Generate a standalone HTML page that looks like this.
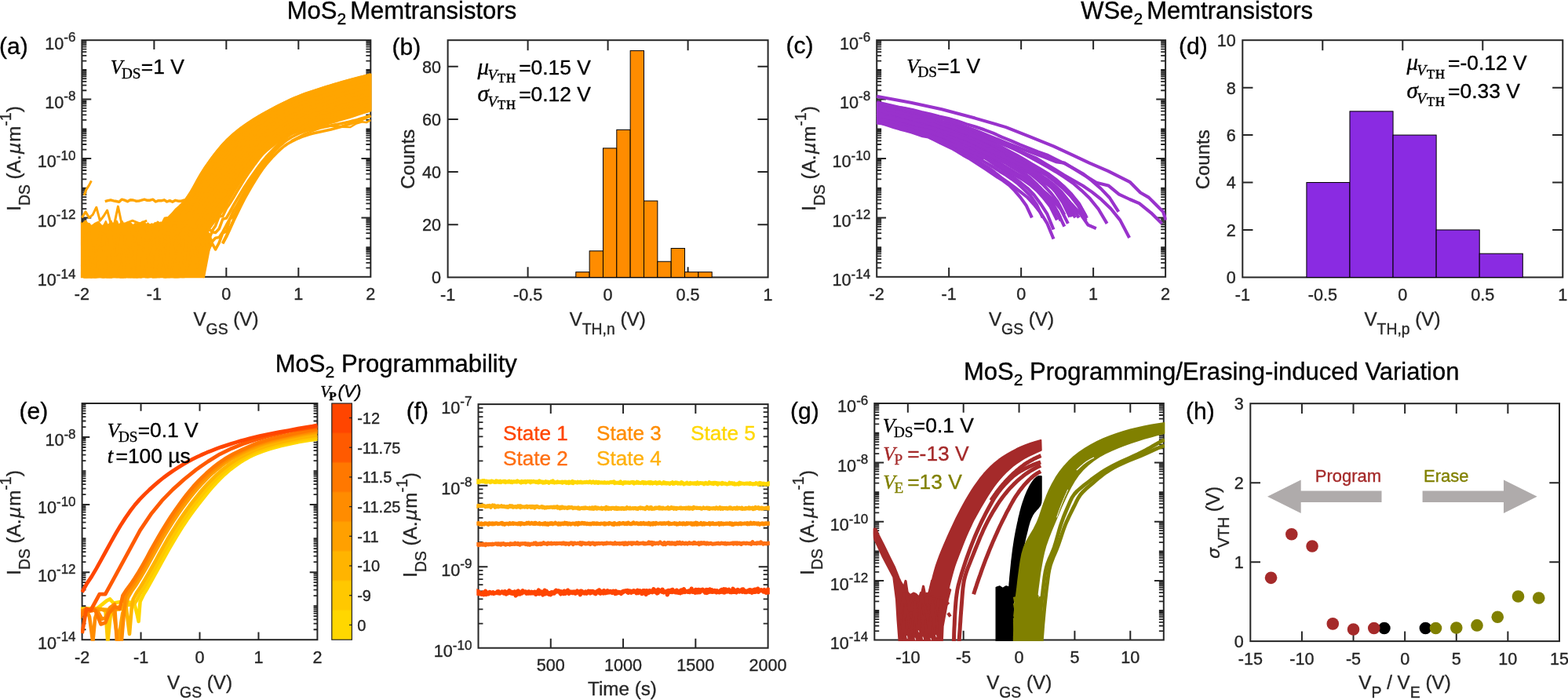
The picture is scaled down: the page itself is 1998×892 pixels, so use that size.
<!DOCTYPE html>
<html><head><meta charset="utf-8"><title>Memtransistor figure</title>
<style>html,body{margin:0;padding:0;background:#fff}svg{display:block}text{white-space:pre}</style></head>
<body><svg width="1998" height="892" viewBox="0 0 1998 892">
<rect width="1998" height="892" fill="#fff"/>
<text x="365.8" y="23.6" font-size="31" text-anchor="start" fill="#000" stroke="#000" stroke-width="0.35" font-family='"Liberation Sans", sans-serif'><tspan>MoS</tspan><tspan dy="7" font-size="21.08">2</tspan><tspan dy="-7" dx="-3.6"> Memtransistors</tspan></text>
<text x="1377.2" y="23.6" font-size="31" text-anchor="start" fill="#000" stroke="#000" stroke-width="0.35" font-family='"Liberation Sans", sans-serif'><tspan>WSe</tspan><tspan dy="7" font-size="21.08">2</tspan><tspan dy="-7" dx="-3.6"> Memtransistors</tspan></text>
<text x="350.8" y="473.5" font-size="31" text-anchor="start" fill="#000" stroke="#000" stroke-width="0.35" font-family='"Liberation Sans", sans-serif'><tspan>MoS</tspan><tspan dy="7" font-size="21.08">2</tspan><tspan dy="-7" dx="0"> Programmability</tspan></text>
<text x="1228" y="483.5" font-size="31" text-anchor="start" fill="#000" stroke="#000" stroke-width="0.35" font-family='"Liberation Sans", sans-serif'><tspan>MoS</tspan><tspan dy="7" font-size="21.08">2</tspan><tspan dy="-7" dx="0"> Programming/Erasing-induced Variation</tspan></text>
<text x="-1" y="68.7" font-size="30" text-anchor="start" fill="#000" stroke="#000" stroke-width="0.35" font-family='"Liberation Sans", sans-serif'>(a)</text>
<text x="499.5" y="69.6" font-size="30" text-anchor="start" fill="#000" stroke="#000" stroke-width="0.35" font-family='"Liberation Sans", sans-serif'>(b)</text>
<text x="1001.5" y="68.2" font-size="30" text-anchor="start" fill="#000" stroke="#000" stroke-width="0.35" font-family='"Liberation Sans", sans-serif'>(c)</text>
<text x="1502" y="68.5" font-size="30" text-anchor="start" fill="#000" stroke="#000" stroke-width="0.35" font-family='"Liberation Sans", sans-serif'>(d)</text>
<text x="24.5" y="533.8" font-size="30" text-anchor="start" fill="#000" stroke="#000" stroke-width="0.35" font-family='"Liberation Sans", sans-serif'>(e)</text>
<text x="517.7" y="534.2" font-size="30" text-anchor="start" fill="#000" stroke="#000" stroke-width="0.35" font-family='"Liberation Sans", sans-serif'>(f)</text>
<text x="1007" y="533.6" font-size="30" text-anchor="start" fill="#000" stroke="#000" stroke-width="0.35" font-family='"Liberation Sans", sans-serif'>(g)</text>
<text x="1511" y="534.2" font-size="30" text-anchor="start" fill="#000" stroke="#000" stroke-width="0.35" font-family='"Liberation Sans", sans-serif'>(h)</text>
<clipPath id="ca"><rect x="102.9" y="49.7" width="370.9" height="304.6"/></clipPath>
<rect x="104.4" y="51.2" width="367.9" height="301.6" fill="none" stroke="#262626" stroke-width="2"/>
<text x="96.4" y="364.2" font-size="21.6" text-anchor="end" fill="#262626" stroke="#262626" stroke-width="0.35" font-family='"Liberation Sans", sans-serif'><tspan>10</tspan><tspan dy="-9.6" font-size="17.06">-14</tspan></text>
<text x="96.4" y="288.8" font-size="21.6" text-anchor="end" fill="#262626" stroke="#262626" stroke-width="0.35" font-family='"Liberation Sans", sans-serif'><tspan>10</tspan><tspan dy="-9.6" font-size="17.06">-12</tspan></text>
<text x="96.4" y="213.4" font-size="21.6" text-anchor="end" fill="#262626" stroke="#262626" stroke-width="0.35" font-family='"Liberation Sans", sans-serif'><tspan>10</tspan><tspan dy="-9.6" font-size="17.06">-10</tspan></text>
<text x="96.4" y="138" font-size="21.6" text-anchor="end" fill="#262626" stroke="#262626" stroke-width="0.35" font-family='"Liberation Sans", sans-serif'><tspan>10</tspan><tspan dy="-9.6" font-size="17.06">-8</tspan></text>
<text x="96.4" y="62.6" font-size="21.6" text-anchor="end" fill="#262626" stroke="#262626" stroke-width="0.35" font-family='"Liberation Sans", sans-serif'><tspan>10</tspan><tspan dy="-9.6" font-size="17.06">-6</tspan></text>
<path d="M104.4 277.4h11.85M472.3 277.4h-11.85M104.4 202h11.85M472.3 202h-11.85M104.4 126.6h11.85M472.3 126.6h-11.85" stroke="#262626" stroke-width="2" fill="none"/>
<path d="M104.4 341.45h5.92M472.3 341.45h-5.92M104.4 334.81h5.92M472.3 334.81h-5.92M104.4 330.1h5.92M472.3 330.1h-5.92M104.4 326.45h5.92M472.3 326.45h-5.92M104.4 323.46h5.92M472.3 323.46h-5.92M104.4 320.94h5.92M472.3 320.94h-5.92M104.4 318.75h5.92M472.3 318.75h-5.92M104.4 316.83h5.92M472.3 316.83h-5.92M104.4 315.1h5.92M472.3 315.1h-5.92M104.4 303.75h5.92M472.3 303.75h-5.92M104.4 297.11h5.92M472.3 297.11h-5.92M104.4 292.4h5.92M472.3 292.4h-5.92M104.4 288.75h5.92M472.3 288.75h-5.92M104.4 285.76h5.92M472.3 285.76h-5.92M104.4 283.24h5.92M472.3 283.24h-5.92M104.4 281.05h5.92M472.3 281.05h-5.92M104.4 279.13h5.92M472.3 279.13h-5.92M104.4 266.05h5.92M472.3 266.05h-5.92M104.4 259.41h5.92M472.3 259.41h-5.92M104.4 254.7h5.92M472.3 254.7h-5.92M104.4 251.05h5.92M472.3 251.05h-5.92M104.4 248.06h5.92M472.3 248.06h-5.92M104.4 245.54h5.92M472.3 245.54h-5.92M104.4 243.35h5.92M472.3 243.35h-5.92M104.4 241.43h5.92M472.3 241.43h-5.92M104.4 239.7h5.92M472.3 239.7h-5.92M104.4 228.35h5.92M472.3 228.35h-5.92M104.4 221.71h5.92M472.3 221.71h-5.92M104.4 217h5.92M472.3 217h-5.92M104.4 213.35h5.92M472.3 213.35h-5.92M104.4 210.36h5.92M472.3 210.36h-5.92M104.4 207.84h5.92M472.3 207.84h-5.92M104.4 205.65h5.92M472.3 205.65h-5.92M104.4 203.73h5.92M472.3 203.73h-5.92M104.4 190.65h5.92M472.3 190.65h-5.92M104.4 184.01h5.92M472.3 184.01h-5.92M104.4 179.3h5.92M472.3 179.3h-5.92M104.4 175.65h5.92M472.3 175.65h-5.92M104.4 172.66h5.92M472.3 172.66h-5.92M104.4 170.14h5.92M472.3 170.14h-5.92M104.4 167.95h5.92M472.3 167.95h-5.92M104.4 166.03h5.92M472.3 166.03h-5.92M104.4 164.3h5.92M472.3 164.3h-5.92M104.4 152.95h5.92M472.3 152.95h-5.92M104.4 146.31h5.92M472.3 146.31h-5.92M104.4 141.6h5.92M472.3 141.6h-5.92M104.4 137.95h5.92M472.3 137.95h-5.92M104.4 134.96h5.92M472.3 134.96h-5.92M104.4 132.44h5.92M472.3 132.44h-5.92M104.4 130.25h5.92M472.3 130.25h-5.92M104.4 128.33h5.92M472.3 128.33h-5.92M104.4 115.25h5.92M472.3 115.25h-5.92M104.4 108.61h5.92M472.3 108.61h-5.92M104.4 103.9h5.92M472.3 103.9h-5.92M104.4 100.25h5.92M472.3 100.25h-5.92M104.4 97.26h5.92M472.3 97.26h-5.92M104.4 94.74h5.92M472.3 94.74h-5.92M104.4 92.55h5.92M472.3 92.55h-5.92M104.4 90.63h5.92M472.3 90.63h-5.92M104.4 88.9h5.92M472.3 88.9h-5.92M104.4 77.55h5.92M472.3 77.55h-5.92M104.4 70.91h5.92M472.3 70.91h-5.92M104.4 66.2h5.92M472.3 66.2h-5.92M104.4 62.55h5.92M472.3 62.55h-5.92M104.4 59.56h5.92M472.3 59.56h-5.92M104.4 57.04h5.92M472.3 57.04h-5.92M104.4 54.85h5.92M472.3 54.85h-5.92M104.4 52.93h5.92M472.3 52.93h-5.92" stroke="#262626" stroke-width="1.8" fill="none"/>
<text x="104.4" y="382.2" font-size="21.6" text-anchor="middle" fill="#262626" stroke="#262626" stroke-width="0.35" font-family='"Liberation Sans", sans-serif'>-2</text>
<text x="196.38" y="382.2" font-size="21.6" text-anchor="middle" fill="#262626" stroke="#262626" stroke-width="0.35" font-family='"Liberation Sans", sans-serif'>-1</text>
<text x="288.35" y="382.2" font-size="21.6" text-anchor="middle" fill="#262626" stroke="#262626" stroke-width="0.35" font-family='"Liberation Sans", sans-serif'>0</text>
<text x="380.32" y="382.2" font-size="21.6" text-anchor="middle" fill="#262626" stroke="#262626" stroke-width="0.35" font-family='"Liberation Sans", sans-serif'>1</text>
<text x="472.3" y="382.2" font-size="21.6" text-anchor="middle" fill="#262626" stroke="#262626" stroke-width="0.35" font-family='"Liberation Sans", sans-serif'>2</text>
<path d="M196.38 352.8v-11.85M196.38 51.2v11.85M288.35 352.8v-11.85M288.35 51.2v11.85M380.32 352.8v-11.85M380.32 51.2v11.85" stroke="#262626" stroke-width="2" fill="none"/>
<g clip-path="url(#ca)">
<polygon points="99.8,364.1 99.8,288.1 102.1,282.8 104.5,285.4 106.8,283.3 109.1,281.3 111.5,284.6 113.8,284.9 116.1,288.2 118.5,286.7 120.8,284.9 123.1,283.6 125.5,282.6 127.8,285.8 130.1,288.2 132.5,286.5 134.8,281.9 137.1,287.1 139.5,285.3 141.8,281.7 144.1,288.5 146.5,284.2 148.8,281.5 151.1,287.0 153.5,284.6 155.8,281.9 158.1,287.7 160.5,284.8 162.8,283.1 165.1,283.7 167.4,285.2 169.8,287.2 172.1,285.0 174.4,285.9 176.8,285.1 179.1,286.0 181.4,282.4 183.8,282.9 186.1,286.3 188.4,284.4 190.8,286.6 193.1,285.3 195.4,286.0 197.8,283.8 200.1,285.9 202.4,285.2 204.8,283.3 207.1,285.6 209.4,281.9 211.8,287.3 214.1,283.1 216.4,285.5 218.8,285.5 221.1,283.9 223.4,284.8 225.8,285.6 228.1,288.7 230.4,288.0 232.8,283.4 235.1,284.8 237.4,283.5 239.8,281.5 242.1,283.6 244.4,288.3 246.8,286.4 249.1,284.2 251.4,286.9 253.8,281.4 256.1,281.6 258.4,282.3 260.8,285.1 268.1,311.3 258.0,364.1" fill="#FFA500" stroke="#FFA500" stroke-width="2" stroke-linejoin="round"/>
<polygon points="210.2,282.3 214.6,277.8 219.1,273.4 223.5,269.1 227.9,264.7 232.4,259.9 236.8,254.4 241.3,247.9 245.7,240.4 250.2,232.4 254.6,224.4 259.0,217.0 263.5,210.5 267.9,204.3 272.4,198.2 276.8,192.5 281.3,187.1 285.7,182.1 290.1,177.6 294.6,173.5 299.0,169.6 303.5,166.0 307.9,162.7 312.4,159.4 316.8,156.4 321.2,153.4 325.7,150.7 330.1,148.0 334.6,145.5 339.0,143.0 343.5,140.6 347.9,138.3 352.3,135.9 356.8,133.6 361.2,131.4 365.7,129.3 370.1,127.2 374.6,125.2 379.0,123.4 383.4,121.6 387.9,119.9 392.3,118.3 396.8,116.8 401.2,115.3 405.7,113.8 410.1,112.4 414.5,111.0 419.0,109.7 423.4,108.3 427.9,107.0 432.3,105.7 436.8,104.4 441.2,103.2 445.6,101.9 450.1,100.7 454.5,99.6 459.0,98.4 463.4,97.3 467.9,96.2 472.3,95.1 472.3,140.4 467.9,142.0 463.4,143.6 459.0,145.1 454.5,146.6 450.1,148.1 445.6,149.5 441.2,150.8 436.8,152.1 432.3,153.4 427.9,154.7 423.4,156.0 419.0,157.3 414.5,158.5 410.1,159.7 405.7,160.9 401.2,162.3 396.8,163.4 392.3,164.3 387.9,165.3 383.4,166.5 379.0,167.9 374.6,169.6 370.1,171.4 365.7,173.5 361.2,176.0 356.8,178.9 352.3,182.1 347.9,185.6 343.5,189.1 339.0,192.8 334.6,196.9 330.1,201.3 325.7,205.9 321.2,210.6 316.8,215.4 312.4,221.4 307.9,228.1 303.5,235.2 299.0,242.4 294.6,250.0 290.1,257.7 285.7,264.9 281.3,271.4 276.8,277.6 272.4,283.5 267.9,289.6 263.5,296.0 259.0,303.0 254.6,310.8 250.2,319.0 245.7,327.3 241.3,335.3 236.8,342.6 232.4,349.0 227.9,355.0 223.5,360.8 219.1,366.6 214.6,372.3 210.2,378.1" fill="#FFA500" stroke="#FFA500" stroke-width="3" stroke-linejoin="round"/>
<polyline points="104.4,305.5 109.0,360.7 113.6,347.7 118.2,335.7 122.8,313.5 127.4,333.2 132.0,353.0 136.6,340.9 141.2,340.4 145.8,339.5 150.4,341.2 155.0,330.3 159.6,326.6 164.2,307.3 168.8,304.9 173.4,315.8 178.0,313.8 182.6,300.6 187.2,293.2 191.8,297.7 196.4,290.9 201.0,283.4 205.6,287.2 210.2,278.2 214.8,277.4 219.4,272.8 224.0,267.4 228.6,263.4 233.2,258.9 237.8,252.9 242.4,246.1 247.0,238.1 251.6,229.7 256.2,221.7 260.8,214.4 265.4,207.8 270.0,201.4 274.6,195.3 279.2,189.6 283.8,184.2 288.4,179.4 292.9,175.0 297.5,170.9 302.1,167.1 306.7,163.5 311.3,160.2 315.9,156.9 320.5,153.9 325.1,151.0 329.7,148.3 334.3,145.6 338.9,143.1 343.5,140.6 348.1,138.1 352.7,135.7 357.3,133.4 361.9,131.1 366.5,128.9 371.1,126.7 375.7,124.7 380.3,122.8 384.9,121.0 389.5,119.3 394.1,117.7 398.7,116.1 403.3,114.6 407.9,113.1 412.5,111.7 417.1,110.2 421.7,108.9 426.3,107.5 430.9,106.1 435.5,104.8 440.1,103.5 444.7,102.2 449.3,100.9 453.9,99.7 458.5,98.5 463.1,97.4 467.7,96.2 472.3,95.1" stroke="#FFA500" stroke-width="3.6" fill="none" stroke-linejoin="round" />
<polyline points="104.4,331.6 109.0,317.5 113.6,339.3 118.2,360.5 122.8,346.0 127.4,325.8 132.0,297.2 136.6,292.9 141.2,347.9 145.8,354.2 150.4,305.7 155.0,297.9 159.6,329.8 164.2,309.0 168.8,301.5 173.4,316.4 178.0,299.5 182.6,320.4 187.2,314.1 191.8,309.3 196.4,304.8 201.0,288.6 205.6,294.7 210.2,287.3 214.8,284.9 219.4,280.1 224.0,275.5 228.6,271.0 233.2,265.6 237.8,259.8 242.4,252.9 247.0,244.7 251.6,236.6 256.2,228.4 260.8,221.1 265.4,214.5 270.0,208.1 274.6,202.0 279.2,196.2 283.8,190.8 288.4,185.7 292.9,181.1 297.5,176.7 302.1,172.6 306.7,168.7 311.3,165.1 315.9,161.6 320.5,158.3 325.1,155.1 329.7,152.2 334.3,149.3 338.9,146.5 343.5,143.9 348.1,141.3 352.7,138.7 357.3,136.3 361.9,133.9 366.5,131.6 371.1,129.4 375.7,127.4 380.3,125.4 384.9,123.6 389.5,121.9 394.1,120.2 398.7,118.7 403.3,117.1 407.9,115.7 412.5,114.2 417.1,112.8 421.7,111.4 426.3,110.1 430.9,108.7 435.5,107.4 440.1,106.1 444.7,104.8 449.3,103.5 453.9,102.3 458.5,101.1 463.1,99.9 467.7,98.7 472.3,97.6" stroke="#FFA500" stroke-width="3.6" fill="none" stroke-linejoin="round" />
<polyline points="104.4,310.2 109.0,362.3 113.6,306.8 118.2,327.1 122.8,350.3 127.4,332.4 132.0,322.9 136.6,351.1 141.2,305.0 145.8,338.2 150.4,301.1 155.0,305.6 159.6,350.3 164.2,319.5 168.8,337.3 173.4,310.4 178.0,322.2 182.6,323.2 187.2,298.0 191.8,320.6 196.4,310.0 201.0,309.1 205.6,305.2 210.2,294.1 214.8,293.3 219.4,283.7 224.0,284.5 228.6,280.7 233.2,271.0 237.8,269.6 242.4,262.5 247.0,254.0 251.6,246.0 256.2,237.9 260.8,230.3 265.4,223.9 270.0,217.4 274.6,211.3 279.2,205.5 283.8,199.9 288.4,194.6 292.9,189.6 297.5,184.8 302.1,180.3 306.7,176.0 311.3,171.9 315.9,168.1 320.5,164.4 325.1,160.9 329.7,157.6 334.3,154.4 338.9,151.4 343.5,148.5 348.1,145.7 352.7,143.0 357.3,140.3 361.9,137.8 366.5,135.4 371.1,133.2 375.7,131.0 380.3,129.1 384.9,127.2 389.5,125.5 394.1,123.8 398.7,122.2 403.3,120.7 407.9,119.3 412.5,117.8 417.1,116.4 421.7,115.1 426.3,113.7 430.9,112.3 435.5,111.0 440.1,109.7 444.7,108.4 449.3,107.1 453.9,105.9 458.5,104.6 463.1,103.4 467.7,102.2 472.3,101.0" stroke="#FFA500" stroke-width="3.6" fill="none" stroke-linejoin="round" />
<polyline points="104.4,303.1 109.0,315.9 113.6,366.6 118.2,350.3 122.8,334.9 127.4,333.3 132.0,306.3 136.6,354.3 141.2,320.1 145.8,343.1 150.4,310.9 155.0,354.1 159.6,334.1 164.2,355.0 168.8,347.9 173.4,297.4 178.0,338.3 182.6,300.2 187.2,323.9 191.8,332.4 196.4,305.1 201.0,322.1 205.6,300.0 210.2,311.9 214.8,300.8 219.4,301.8 224.0,296.5 228.6,282.8 233.2,285.9 237.8,279.3 242.4,272.1 247.0,265.3 251.6,256.1 256.2,248.0 260.8,241.2 265.4,234.5 270.0,228.1 274.6,221.9 279.2,216.1 283.8,210.4 288.4,204.8 292.9,199.3 297.5,194.0 302.1,189.0 306.7,184.3 311.3,179.8 315.9,175.5 320.5,171.4 325.1,167.5 329.7,163.8 334.3,160.3 338.9,157.0 343.5,153.8 348.1,150.7 352.7,147.8 357.3,144.9 361.9,142.3 366.5,139.7 371.1,137.4 375.7,135.3 380.3,133.2 384.9,131.4 389.5,129.6 394.1,127.9 398.7,126.3 403.3,124.8 407.9,123.4 412.5,122.0 417.1,120.6 421.7,119.2 426.3,117.8 430.9,116.5 435.5,115.2 440.1,113.8 444.7,112.5 449.3,111.2 453.9,110.0 458.5,108.7 463.1,107.4 467.7,106.2 472.3,105.0" stroke="#FFA500" stroke-width="3.6" fill="none" stroke-linejoin="round" />
<polyline points="104.4,352.6 109.0,298.5 113.6,330.4 118.2,355.2 122.8,339.1 127.4,301.2 132.0,308.5 136.6,335.1 141.2,345.9 145.8,343.8 150.4,294.0 155.0,363.1 159.6,301.6 164.2,304.2 168.8,352.6 173.4,343.3 178.0,326.6 182.6,308.2 187.2,296.1 191.8,292.6 196.4,336.1 201.0,334.3 205.6,322.4 210.2,316.8 214.8,310.1 219.4,316.0 224.0,304.6 228.6,290.9 233.2,288.7 237.8,284.4 242.4,280.6 247.0,273.9 251.6,270.4 256.2,260.6 260.8,254.6 265.4,247.9 270.0,241.4 274.6,234.9 279.2,229.3 283.8,223.4 288.4,217.5 292.9,211.4 297.5,205.6 302.1,200.0 306.7,194.7 311.3,189.6 315.9,184.8 320.5,180.2 325.1,175.8 329.7,171.6 334.3,167.6 338.9,163.9 343.5,160.4 348.1,157.1 352.7,153.8 357.3,150.7 361.9,147.9 366.5,145.2 371.1,142.8 375.7,140.5 380.3,138.5 384.9,136.5 389.5,134.7 394.1,133.0 398.7,131.4 403.3,129.9 407.9,128.5 412.5,127.1 417.1,125.8 421.7,124.4 426.3,123.0 430.9,121.7 435.5,120.3 440.1,119.0 444.7,117.7 449.3,116.4 453.9,115.1 458.5,113.8 463.1,112.5 467.7,111.2 472.3,109.9" stroke="#FFA500" stroke-width="3.6" fill="none" stroke-linejoin="round" />
<polyline points="104.4,368.8 109.0,361.8 113.6,373.5 118.2,367.2 122.8,366.9 127.4,295.8 132.0,301.3 136.6,358.3 141.2,354.1 145.8,295.7 150.4,328.1 155.0,344.5 159.6,336.5 164.2,351.9 168.8,326.7 173.4,315.1 178.0,331.9 182.6,307.1 187.2,356.9 191.8,324.0 196.4,293.1 201.0,346.3 205.6,328.4 210.2,318.7 214.8,329.8 219.4,293.7 224.0,318.5 228.6,315.0 233.2,294.8 237.8,307.9 242.4,290.6 247.0,292.2 251.6,283.5 256.2,275.2 260.8,267.8 265.4,261.2 270.0,254.8 274.6,248.6 279.2,242.0 283.8,236.1 288.4,230.2 292.9,223.5 297.5,217.1 302.1,211.0 306.7,205.1 311.3,199.4 315.9,194.0 320.5,188.9 325.1,184.0 329.7,179.4 334.3,175.0 338.9,170.8 343.5,167.0 348.1,163.4 352.7,159.8 357.3,156.5 361.9,153.4 366.5,150.6 371.1,148.1 375.7,145.8 380.3,143.7 384.9,141.7 389.5,139.8 394.1,138.1 398.7,136.5 403.3,135.0 407.9,133.6 412.5,132.3 417.1,130.9 421.7,129.6 426.3,128.2 430.9,126.9 435.5,125.5 440.1,124.2 444.7,122.9 449.3,121.5 453.9,120.2 458.5,118.8 463.1,117.5 467.7,116.1 472.3,114.8" stroke="#FFA500" stroke-width="3.6" fill="none" stroke-linejoin="round" />
<polyline points="104.4,365.1 109.0,352.8 113.6,374.8 118.2,373.0 122.8,339.7 127.4,332.9 132.0,354.6 136.6,343.9 141.2,366.7 145.8,320.8 150.4,342.8 155.0,361.7 159.6,334.1 164.2,357.6 168.8,350.7 173.4,363.7 178.0,310.6 182.6,350.9 187.2,296.1 191.8,340.3 196.4,356.2 201.0,316.3 205.6,313.7 210.2,301.8 214.8,345.3 219.4,308.2 224.0,302.4 228.6,329.1 233.2,321.1 237.8,311.6 242.4,313.0 247.0,293.2 251.6,293.2 256.2,283.7 260.8,281.0 265.4,274.1 270.0,268.1 274.6,261.9 279.2,255.4 283.8,248.6 288.4,242.9 292.9,235.8 297.5,228.7 302.1,222.0 306.7,215.4 311.3,209.2 315.9,203.3 320.5,197.7 325.1,192.3 329.7,187.1 334.3,182.3 338.9,177.8 343.5,173.6 348.1,169.7 352.7,165.9 357.3,162.3 361.9,159.0 366.5,156.1 371.1,153.5 375.7,151.1 380.3,148.9 384.9,146.8 389.5,145.0 394.1,143.2 398.7,141.6 403.3,140.1 407.9,138.8 412.5,137.4 417.1,136.1 421.7,134.8 426.3,133.4 430.9,132.1 435.5,130.7 440.1,129.4 444.7,128.0 449.3,126.7 453.9,125.3 458.5,123.9 463.1,122.5 467.7,121.1 472.3,119.7" stroke="#FFA500" stroke-width="3.6" fill="none" stroke-linejoin="round" />
<polyline points="104.4,353.8 109.0,343.1 113.6,370.9 118.2,316.7 122.8,370.2 127.4,370.6 132.0,298.1 136.6,308.5 141.2,354.3 145.8,347.0 150.4,306.9 155.0,324.0 159.6,353.3 164.2,338.1 168.8,304.4 173.4,374.1 178.0,293.1 182.6,328.3 187.2,358.9 191.8,309.0 196.4,364.4 201.0,340.0 205.6,327.0 210.2,349.2 214.8,301.6 219.4,316.2 224.0,344.7 228.6,340.8 233.2,337.3 237.8,318.9 242.4,323.4 247.0,310.9 251.6,296.5 256.2,289.8 260.8,292.0 265.4,284.9 270.0,278.4 274.6,272.4 279.2,266.2 283.8,259.9 288.4,252.6 292.9,245.5 297.5,237.9 302.1,230.7 306.7,223.7 311.3,217.0 315.9,210.7 320.5,204.7 325.1,198.9 329.7,193.4 334.3,188.2 338.9,183.3 343.5,178.9 348.1,174.7 352.7,170.7 357.3,167.0 361.9,163.5 366.5,160.4 371.1,157.7 375.7,155.3 380.3,153.0 384.9,151.0 389.5,149.1 394.1,147.3 398.7,145.7 403.3,144.2 407.9,142.9 412.5,141.5 417.1,140.2 421.7,138.9 426.3,137.5 430.9,136.2 435.5,134.9 440.1,133.5 444.7,132.2 449.3,130.8 453.9,129.4 458.5,128.0 463.1,126.6 467.7,125.1 472.3,123.7" stroke="#FFA500" stroke-width="3.6" fill="none" stroke-linejoin="round" />
<polyline points="104.4,348.7 109.0,297.7 113.6,355.5 118.2,314.6 122.8,368.7 127.4,331.3 132.0,320.8 136.6,358.0 141.2,348.2 145.8,329.8 150.4,326.5 155.0,362.5 159.6,341.3 164.2,292.5 168.8,348.6 173.4,310.3 178.0,358.3 182.6,337.0 187.2,332.3 191.8,325.8 196.4,315.8 201.0,309.3 205.6,317.1 210.2,308.2 214.8,301.7 219.4,343.6 224.0,306.2 228.6,328.5 233.2,339.3 237.8,336.9 242.4,308.1 247.0,312.4 251.6,315.8 256.2,303.5 260.8,300.0 265.4,292.5 270.0,285.5 274.6,279.3 279.2,274.3 283.8,267.8 288.4,260.4 292.9,252.3 297.5,244.6 302.1,237.3 306.7,229.9 311.3,222.8 315.9,216.2 320.5,210.0 325.1,203.8 329.7,198.0 334.3,192.6 338.9,187.5 343.5,182.9 348.1,178.5 352.7,174.3 357.3,170.4 361.9,166.9 366.5,163.7 371.1,161.0 375.7,158.5 380.3,156.2 384.9,154.1 389.5,152.2 394.1,150.4 398.7,148.8 403.3,147.3 407.9,145.9 412.5,144.6 417.1,143.3 421.7,142.0 426.3,140.7 430.9,139.3 435.5,138.0 440.1,136.6 444.7,135.3 449.3,133.9 453.9,132.5 458.5,131.0 463.1,129.6 467.7,128.1 472.3,126.6" stroke="#FFA500" stroke-width="3.6" fill="none" stroke-linejoin="round" />
<polyline points="104.4,337.6 109.0,356.0 113.6,370.0 118.2,352.8 122.8,323.0 127.4,299.9 132.0,375.3 136.6,307.6 141.2,312.0 145.8,318.1 150.4,364.8 155.0,370.9 159.6,314.3 164.2,322.2 168.8,344.7 173.4,346.7 178.0,372.2 182.6,293.0 187.2,306.0 191.8,294.6 196.4,307.5 201.0,337.0 205.6,305.2 210.2,356.3 214.8,319.3 219.4,351.3 224.0,339.8 228.6,302.7 233.2,335.0 237.8,300.5 242.4,320.4 247.0,328.4 251.6,322.0 256.2,315.6 260.8,304.0 265.4,292.1 270.0,294.5 274.6,287.7 279.2,275.7 283.8,275.4 288.4,265.8 292.9,259.3 297.5,251.7 302.1,243.8 306.7,236.2 311.3,228.7 315.9,221.8 320.5,215.2 325.1,208.8 329.7,202.7 334.3,196.9 338.9,191.7 343.5,186.8 348.1,182.3 352.7,177.9 357.3,173.9 361.9,170.2 366.5,167.0 371.1,164.2 375.7,161.6 380.3,159.3 384.9,157.2 389.5,155.2 394.1,153.5 398.7,151.8 403.3,150.4 407.9,149.0 412.5,147.7 417.1,146.4 421.7,145.1 426.3,143.8 430.9,142.4 435.5,141.1 440.1,139.7 444.7,138.4 449.3,137.0 453.9,135.5 458.5,134.1 463.1,132.6 467.7,131.1 472.3,129.6" stroke="#FFA500" stroke-width="3.6" fill="none" stroke-linejoin="round" />
<polyline points="104.4,308.3 109.0,366.7 113.6,296.5 118.2,336.9 122.8,347.9 127.4,310.8 132.0,354.1 136.6,363.3 141.2,354.0 145.8,319.6 150.4,367.0 155.0,338.0 159.6,355.9 164.2,330.2 168.8,363.9 173.4,311.2 178.0,298.8 182.6,348.8 187.2,345.9 191.8,325.8 196.4,314.1 201.0,368.6 205.6,319.3 210.2,307.8 214.8,309.5 219.4,337.8 224.0,306.9 228.6,328.5 233.2,349.6 237.8,342.1 242.4,322.4 247.0,322.6 251.6,305.2 256.2,308.1 260.8,315.0 265.4,307.6 270.0,295.5 274.6,296.4 279.2,291.6 283.8,279.2 288.4,278.0 292.9,270.2 297.5,261.7 302.1,253.9 306.7,246.2 311.3,238.5 315.9,231.4 320.5,224.8 325.1,218.2 329.7,211.9 334.3,205.9 338.9,200.3 343.5,195.2 348.1,190.4 352.7,185.7 357.3,181.3 361.9,177.3 366.5,173.7 371.1,170.5 375.7,167.6 380.3,164.8 384.9,162.3 389.5,159.9 394.1,157.7 398.7,155.7 403.3,153.7 407.9,151.9 412.5,150.2 417.1,148.5 421.7,146.7 426.3,145.0 430.9,143.2 435.5,141.5 440.1,139.8 444.7,138.1 449.3,136.4 453.9,134.7 458.5,133.0 463.1,131.4 467.7,129.7 472.3,128.0" stroke="#FFA500" stroke-width="3.6" fill="none" stroke-linejoin="round" />
<polyline points="104.4,305.1 109.0,318.5 113.6,344.4 118.2,367.8 122.8,351.0 127.4,314.0 132.0,340.4 136.6,308.8 141.2,357.5 145.8,307.1 150.4,304.1 155.0,315.5 159.6,358.5 164.2,356.9 168.8,370.0 173.4,371.0 178.0,314.1 182.6,334.6 187.2,312.3 191.8,351.8 196.4,346.6 201.0,301.2 205.6,292.7 210.2,365.4 214.8,310.7 219.4,329.0 224.0,368.5 228.6,323.8 233.2,348.5 237.8,342.5 242.4,294.7 247.0,312.3 251.6,341.0 256.2,313.9 260.8,327.2 265.4,297.5 270.0,308.2 274.6,303.2 279.2,302.5 283.8,295.7 288.4,287.0 292.9,279.0 297.5,268.6 302.1,261.3 306.7,252.8 311.3,244.5 315.9,236.7 320.5,228.9 325.1,221.9 329.7,214.8 334.3,208.2 338.9,202.0 343.5,196.4 348.1,191.0 352.7,185.9 357.3,181.2 361.9,176.8 366.5,172.9 371.1,169.5 375.7,166.5 380.3,163.6 384.9,161.1 389.5,158.7 394.1,156.6 398.7,154.6 403.3,152.9 407.9,151.3 412.5,149.8 417.1,148.4 421.7,146.9 426.3,145.5 430.9,144.1 435.5,142.8 440.1,141.5 444.7,140.2 449.3,138.9 453.9,137.6 458.5,136.4 463.1,135.1 467.7,133.8 472.3,132.5" stroke="#FFA500" stroke-width="3.6" fill="none" stroke-linejoin="round" />
<polyline points="104.4,339.5 109.0,299.4 113.6,362.9 118.2,338.8 122.8,344.8 127.4,330.1 132.0,359.4 136.6,363.2 141.2,293.9 145.8,350.4 150.4,334.0 155.0,299.4 159.6,350.3 164.2,345.0 168.8,328.7 173.4,369.7 178.0,373.4 182.6,322.9 187.2,344.6 191.8,368.7 196.4,351.6 201.0,317.9 205.6,312.4 210.2,333.4 214.8,356.6 219.4,305.8 224.0,357.1 228.6,312.5 233.2,359.6 237.8,297.8 242.4,310.9 247.0,331.5 251.6,334.3 256.2,323.5 260.8,316.0 265.4,319.1 270.0,309.7 274.6,317.9 279.2,309.4 283.8,296.9 288.4,295.0 292.9,278.9 297.5,276.0 302.1,266.9 306.7,256.6 311.3,248.6 315.9,240.2 320.5,232.1 325.1,224.2 329.7,216.8 334.3,209.7 338.9,203.2 343.5,197.4 348.1,191.9 352.7,186.6 357.3,181.8 361.9,177.5 366.5,173.8 371.1,170.6 375.7,167.8 380.3,165.2 384.9,163.0 389.5,161.0 394.1,159.2 398.7,157.7 403.3,156.4 407.9,155.2 412.5,154.2 417.1,153.2 421.7,152.2 426.3,151.2 430.9,150.2 435.5,149.3 440.1,148.3 444.7,147.3 449.3,146.3 453.9,145.3 458.5,144.2 463.1,143.1 467.7,141.9 472.3,140.7" stroke="#FFA500" stroke-width="3.6" fill="none" stroke-linejoin="round" />
<polyline points="283.8,309.5 288.4,300.7 292.9,290.7 297.5,280.4 302.1,270.5 306.7,260.9 311.3,251.6 315.9,243.0 320.5,234.8 325.1,226.8 329.7,219.3 334.3,212.3 338.9,205.9 343.5,200.2 348.1,194.9 352.7,189.9 357.3,185.3 361.9,181.3 366.5,177.9 371.1,175.0 375.7,172.6 380.3,170.4 384.9,168.5 389.5,166.9 394.1,165.5 398.7,164.3 403.3,163.3 407.9,162.4 412.5,161.6 417.1,160.8 421.7,160.0 426.3,159.1 430.9,158.2 435.5,157.2 440.1,156.3 444.7,155.2 449.3,154.1 453.9,152.9 458.5,151.6 463.1,150.2 467.7,148.7 472.3,147.2" stroke="#FFA500" stroke-width="3.6" fill="none" stroke-linejoin="round" />
<polyline points="283.8,310.5 288.4,301.9 292.9,292.2 297.5,282.0 302.1,272.4 306.7,263.0 311.3,253.9 315.9,245.6 320.5,237.7 325.1,230.0 329.7,222.8 334.3,216.0 338.9,209.9 343.5,204.5 348.1,199.4 352.7,194.7 357.3,190.4 361.9,186.5 366.5,183.3 371.1,180.6 375.7,178.3 380.3,176.2 384.9,174.4 389.5,172.8 394.1,171.3 398.7,170.0 403.3,168.9 407.9,167.9 412.5,167.0 417.1,166.0 421.7,164.9 426.3,163.7 430.9,162.4 435.5,161.2 440.1,159.8 444.7,158.4 449.3,156.8 453.9,155.2 458.5,153.5 463.1,151.6 467.7,149.7 472.3,147.7" stroke="#FFA500" stroke-width="3.6" fill="none" stroke-linejoin="round" />
<polyline points="133.8,256.7 137.4,255.6 141.0,254.9 144.6,255.8 148.2,256.5 151.8,257.3 155.3,254.1 158.9,255.1 162.5,256.8 166.1,254.8 169.7,255.0 173.3,256.2 176.8,256.1 180.4,255.1 184.0,254.2 187.6,255.3 191.2,255.2 194.8,254.2 198.3,257.0 201.9,255.6 205.5,255.8 209.1,254.8 212.7,257.0 216.3,255.6 219.8,257.2 223.4,255.3 227.0,256.2 230.6,256.3 234.2,255.0 237.8,256.2" stroke="#FFA500" stroke-width="3.4" fill="none" stroke-linejoin="round" />
<polyline points="107.2,249.1 109.9,241.6 113.6,235.9 116.4,230.3" stroke="#FFA500" stroke-width="3" fill="none" stroke-linejoin="round" />
<polyline points="104.4,277.4 109.0,269.9 113.6,277.4 118.2,273.6 122.8,264.2 127.4,281.2 132.0,275.5 136.6,268.0 141.2,284.9 145.8,284.9 150.4,263.1 155.0,284.9 159.6,284.9 168.8,281.2 178.0,284.9 187.2,281.2" stroke="#FFA500" stroke-width="3" fill="none" stroke-linejoin="round" />
<polyline points="371.1,179.4 389.5,170.0 407.9,163.5 421.7,160.5 435.5,161.7 446.5,162.0 453.9,157.5 461.3,155.3 466.8,156.0 472.3,153.0" stroke="#FFA500" stroke-width="2.6" fill="none" stroke-linejoin="round" />
</g>
<text transform="translate(26,202) rotate(-90)" font-size="24.2" text-anchor="middle" fill="#262626" stroke="#262626" stroke-width="0.35" font-family='"Liberation Sans", sans-serif'><tspan>I</tspan><tspan dy="11.5" font-size="19.36">DS</tspan><tspan dy="-11.5"> (A.</tspan><tspan dx="1.5" font-size="22.26" font-family='"DejaVu Sans", sans-serif' font-style="italic">μ</tspan><tspan dx="1.2">m</tspan><tspan dy="-12.3" font-size="19.36">-1</tspan><tspan dy="12.3">)</tspan></text>
<text x="288" y="414.5" font-size="24.2" text-anchor="middle" fill="#262626" stroke="#262626" stroke-width="0.35" font-family='"Liberation Sans", sans-serif'><tspan>V</tspan><tspan dy="11.5" font-size="19.36">GS</tspan><tspan dy="-11.5"> (V)</tspan></text>
<text x="140.8" y="94.4" font-size="26.4" text-anchor="start" fill="#000" stroke="#000" stroke-width="0.35" font-family='"Liberation Serif", serif'><tspan font-size="25.5" font-style="italic">V</tspan><tspan dy="5.3" x="155" font-size="19.2">DS</tspan><tspan dy="-5.3" x="179.8" font-family='"Liberation Sans", sans-serif'>=1 V</tspan></text>
<rect x="570.6" y="51.2" width="408" height="302.2" fill="none" stroke="#262626" stroke-width="2"/>
<text x="562" y="361.3" font-size="21.6" text-anchor="end" fill="#262626" stroke="#262626" stroke-width="0.35" font-family='"Liberation Sans", sans-serif'>0</text>
<text x="562" y="294.14" font-size="21.6" text-anchor="end" fill="#262626" stroke="#262626" stroke-width="0.35" font-family='"Liberation Sans", sans-serif'>20</text>
<text x="562" y="226.99" font-size="21.6" text-anchor="end" fill="#262626" stroke="#262626" stroke-width="0.35" font-family='"Liberation Sans", sans-serif'>40</text>
<text x="562" y="159.83" font-size="21.6" text-anchor="end" fill="#262626" stroke="#262626" stroke-width="0.35" font-family='"Liberation Sans", sans-serif'>60</text>
<text x="562" y="92.68" font-size="21.6" text-anchor="end" fill="#262626" stroke="#262626" stroke-width="0.35" font-family='"Liberation Sans", sans-serif'>80</text>
<path d="M570.6 286.24h13.14M978.6 286.24h-13.14M570.6 219.09h13.14M978.6 219.09h-13.14M570.6 151.93h13.14M978.6 151.93h-13.14M570.6 84.78h13.14M978.6 84.78h-13.14" stroke="#262626" stroke-width="2" fill="none"/>
<text x="570.6" y="382.8" font-size="21.6" text-anchor="middle" fill="#262626" stroke="#262626" stroke-width="0.35" font-family='"Liberation Sans", sans-serif'>-1</text>
<text x="672.6" y="382.8" font-size="21.6" text-anchor="middle" fill="#262626" stroke="#262626" stroke-width="0.35" font-family='"Liberation Sans", sans-serif'>-0.5</text>
<text x="774.6" y="382.8" font-size="21.6" text-anchor="middle" fill="#262626" stroke="#262626" stroke-width="0.35" font-family='"Liberation Sans", sans-serif'>0</text>
<text x="876.6" y="382.8" font-size="21.6" text-anchor="middle" fill="#262626" stroke="#262626" stroke-width="0.35" font-family='"Liberation Sans", sans-serif'>0.5</text>
<text x="978.6" y="382.8" font-size="21.6" text-anchor="middle" fill="#262626" stroke="#262626" stroke-width="0.35" font-family='"Liberation Sans", sans-serif'>1</text>
<path d="M672.6 353.4v-13.14M672.6 51.2v13.14M774.6 353.4v-13.14M774.6 51.2v13.14M876.6 353.4v-13.14M876.6 51.2v13.14" stroke="#262626" stroke-width="2" fill="none"/>
<rect x="733.8" y="346.68" width="17.34" height="6.72" fill="#FF8C00" stroke="#000" stroke-width="1"/>
<rect x="751.14" y="319.82" width="17.34" height="33.58" fill="#FF8C00" stroke="#000" stroke-width="1"/>
<rect x="768.48" y="188.87" width="17.34" height="164.53" fill="#FF8C00" stroke="#000" stroke-width="1"/>
<rect x="785.82" y="165.36" width="17.34" height="188.04" fill="#FF8C00" stroke="#000" stroke-width="1"/>
<rect x="803.16" y="64.63" width="17.34" height="288.77" fill="#FF8C00" stroke="#000" stroke-width="1"/>
<rect x="820.5" y="256.02" width="17.34" height="97.38" fill="#FF8C00" stroke="#000" stroke-width="1"/>
<rect x="837.84" y="333.25" width="17.34" height="20.15" fill="#FF8C00" stroke="#000" stroke-width="1"/>
<rect x="855.18" y="316.46" width="17.34" height="36.94" fill="#FF8C00" stroke="#000" stroke-width="1"/>
<rect x="872.52" y="346.68" width="17.34" height="6.72" fill="#FF8C00" stroke="#000" stroke-width="1"/>
<rect x="889.86" y="346.68" width="17.34" height="6.72" fill="#FF8C00" stroke="#000" stroke-width="1"/>
<text transform="translate(528.1,202.7) rotate(-90)" font-size="24" text-anchor="middle" fill="#262626" stroke="#262626" stroke-width="0.35" font-family='"Liberation Sans", sans-serif'>Counts</text>
<text x="774.2" y="414.5" font-size="24.2" text-anchor="middle" fill="#262626" stroke="#262626" stroke-width="0.35" font-family='"Liberation Sans", sans-serif'><tspan>V</tspan><tspan dy="11.5" font-size="19.36">TH,n</tspan><tspan dy="-11.5"> (V)</tspan></text>
<text x="608.6" y="94.6" font-size="26.4" text-anchor="start" fill="#000" stroke="#000" stroke-width="0.35" font-family='"Liberation Serif", serif'><tspan font-size="29" font-style="italic">μ</tspan><tspan dy="7" x="621.4" font-size="19.5" font-style="italic">V</tspan><tspan dy="3.3" x="634" letter-spacing="1" font-size="16.5" stroke-width="0.6">TH</tspan><tspan dy="-10.3" x="661.2" font-family='"Liberation Sans", sans-serif'>=0.15 V</tspan></text>
<text x="608.6" y="129" font-size="26.4" text-anchor="start" fill="#000" stroke="#000" stroke-width="0.35" font-family='"Liberation Serif", serif'><tspan font-size="29" font-style="italic">σ</tspan><tspan dy="7" x="621.4" font-size="19.5" font-style="italic">V</tspan><tspan dy="3.3" x="634" letter-spacing="1" font-size="16.5" stroke-width="0.6">TH</tspan><tspan dy="-10.3" x="661.2" font-family='"Liberation Sans", sans-serif'>=0.12 V</tspan></text>
<clipPath id="cc"><rect x="1115.7" y="49.7" width="370.9" height="304.6"/></clipPath>
<rect x="1117.2" y="51.2" width="367.9" height="301.6" fill="none" stroke="#262626" stroke-width="2"/>
<text x="1109.2" y="364.2" font-size="21.6" text-anchor="end" fill="#262626" stroke="#262626" stroke-width="0.35" font-family='"Liberation Sans", sans-serif'><tspan>10</tspan><tspan dy="-9.6" font-size="17.06">-14</tspan></text>
<text x="1109.2" y="288.8" font-size="21.6" text-anchor="end" fill="#262626" stroke="#262626" stroke-width="0.35" font-family='"Liberation Sans", sans-serif'><tspan>10</tspan><tspan dy="-9.6" font-size="17.06">-12</tspan></text>
<text x="1109.2" y="213.4" font-size="21.6" text-anchor="end" fill="#262626" stroke="#262626" stroke-width="0.35" font-family='"Liberation Sans", sans-serif'><tspan>10</tspan><tspan dy="-9.6" font-size="17.06">-10</tspan></text>
<text x="1109.2" y="138" font-size="21.6" text-anchor="end" fill="#262626" stroke="#262626" stroke-width="0.35" font-family='"Liberation Sans", sans-serif'><tspan>10</tspan><tspan dy="-9.6" font-size="17.06">-8</tspan></text>
<text x="1109.2" y="62.6" font-size="21.6" text-anchor="end" fill="#262626" stroke="#262626" stroke-width="0.35" font-family='"Liberation Sans", sans-serif'><tspan>10</tspan><tspan dy="-9.6" font-size="17.06">-6</tspan></text>
<path d="M1117.2 277.4h11.85M1485.1 277.4h-11.85M1117.2 202h11.85M1485.1 202h-11.85M1117.2 126.6h11.85M1485.1 126.6h-11.85" stroke="#262626" stroke-width="2" fill="none"/>
<path d="M1117.2 341.45h5.92M1485.1 341.45h-5.92M1117.2 334.81h5.92M1485.1 334.81h-5.92M1117.2 330.1h5.92M1485.1 330.1h-5.92M1117.2 326.45h5.92M1485.1 326.45h-5.92M1117.2 323.46h5.92M1485.1 323.46h-5.92M1117.2 320.94h5.92M1485.1 320.94h-5.92M1117.2 318.75h5.92M1485.1 318.75h-5.92M1117.2 316.83h5.92M1485.1 316.83h-5.92M1117.2 315.1h5.92M1485.1 315.1h-5.92M1117.2 303.75h5.92M1485.1 303.75h-5.92M1117.2 297.11h5.92M1485.1 297.11h-5.92M1117.2 292.4h5.92M1485.1 292.4h-5.92M1117.2 288.75h5.92M1485.1 288.75h-5.92M1117.2 285.76h5.92M1485.1 285.76h-5.92M1117.2 283.24h5.92M1485.1 283.24h-5.92M1117.2 281.05h5.92M1485.1 281.05h-5.92M1117.2 279.13h5.92M1485.1 279.13h-5.92M1117.2 266.05h5.92M1485.1 266.05h-5.92M1117.2 259.41h5.92M1485.1 259.41h-5.92M1117.2 254.7h5.92M1485.1 254.7h-5.92M1117.2 251.05h5.92M1485.1 251.05h-5.92M1117.2 248.06h5.92M1485.1 248.06h-5.92M1117.2 245.54h5.92M1485.1 245.54h-5.92M1117.2 243.35h5.92M1485.1 243.35h-5.92M1117.2 241.43h5.92M1485.1 241.43h-5.92M1117.2 239.7h5.92M1485.1 239.7h-5.92M1117.2 228.35h5.92M1485.1 228.35h-5.92M1117.2 221.71h5.92M1485.1 221.71h-5.92M1117.2 217h5.92M1485.1 217h-5.92M1117.2 213.35h5.92M1485.1 213.35h-5.92M1117.2 210.36h5.92M1485.1 210.36h-5.92M1117.2 207.84h5.92M1485.1 207.84h-5.92M1117.2 205.65h5.92M1485.1 205.65h-5.92M1117.2 203.73h5.92M1485.1 203.73h-5.92M1117.2 190.65h5.92M1485.1 190.65h-5.92M1117.2 184.01h5.92M1485.1 184.01h-5.92M1117.2 179.3h5.92M1485.1 179.3h-5.92M1117.2 175.65h5.92M1485.1 175.65h-5.92M1117.2 172.66h5.92M1485.1 172.66h-5.92M1117.2 170.14h5.92M1485.1 170.14h-5.92M1117.2 167.95h5.92M1485.1 167.95h-5.92M1117.2 166.03h5.92M1485.1 166.03h-5.92M1117.2 164.3h5.92M1485.1 164.3h-5.92M1117.2 152.95h5.92M1485.1 152.95h-5.92M1117.2 146.31h5.92M1485.1 146.31h-5.92M1117.2 141.6h5.92M1485.1 141.6h-5.92M1117.2 137.95h5.92M1485.1 137.95h-5.92M1117.2 134.96h5.92M1485.1 134.96h-5.92M1117.2 132.44h5.92M1485.1 132.44h-5.92M1117.2 130.25h5.92M1485.1 130.25h-5.92M1117.2 128.33h5.92M1485.1 128.33h-5.92M1117.2 115.25h5.92M1485.1 115.25h-5.92M1117.2 108.61h5.92M1485.1 108.61h-5.92M1117.2 103.9h5.92M1485.1 103.9h-5.92M1117.2 100.25h5.92M1485.1 100.25h-5.92M1117.2 97.26h5.92M1485.1 97.26h-5.92M1117.2 94.74h5.92M1485.1 94.74h-5.92M1117.2 92.55h5.92M1485.1 92.55h-5.92M1117.2 90.63h5.92M1485.1 90.63h-5.92M1117.2 88.9h5.92M1485.1 88.9h-5.92M1117.2 77.55h5.92M1485.1 77.55h-5.92M1117.2 70.91h5.92M1485.1 70.91h-5.92M1117.2 66.2h5.92M1485.1 66.2h-5.92M1117.2 62.55h5.92M1485.1 62.55h-5.92M1117.2 59.56h5.92M1485.1 59.56h-5.92M1117.2 57.04h5.92M1485.1 57.04h-5.92M1117.2 54.85h5.92M1485.1 54.85h-5.92M1117.2 52.93h5.92M1485.1 52.93h-5.92" stroke="#262626" stroke-width="1.8" fill="none"/>
<text x="1117.2" y="382.2" font-size="21.6" text-anchor="middle" fill="#262626" stroke="#262626" stroke-width="0.35" font-family='"Liberation Sans", sans-serif'>-2</text>
<text x="1209.17" y="382.2" font-size="21.6" text-anchor="middle" fill="#262626" stroke="#262626" stroke-width="0.35" font-family='"Liberation Sans", sans-serif'>-1</text>
<text x="1301.15" y="382.2" font-size="21.6" text-anchor="middle" fill="#262626" stroke="#262626" stroke-width="0.35" font-family='"Liberation Sans", sans-serif'>0</text>
<text x="1393.12" y="382.2" font-size="21.6" text-anchor="middle" fill="#262626" stroke="#262626" stroke-width="0.35" font-family='"Liberation Sans", sans-serif'>1</text>
<text x="1485.1" y="382.2" font-size="21.6" text-anchor="middle" fill="#262626" stroke="#262626" stroke-width="0.35" font-family='"Liberation Sans", sans-serif'>2</text>
<path d="M1209.17 352.8v-11.85M1209.17 51.2v11.85M1301.15 352.8v-11.85M1301.15 51.2v11.85M1393.12 352.8v-11.85M1393.12 51.2v11.85" stroke="#262626" stroke-width="2" fill="none"/>
<g clip-path="url(#cc)">
<polygon points="1117.2,131.5 1121.7,132.3 1126.2,133.2 1130.8,134.1 1135.3,135.1 1139.8,136.1 1144.3,137.1 1148.8,138.2 1153.4,139.3 1157.9,140.5 1162.4,141.7 1166.9,142.9 1171.4,144.1 1176.0,145.4 1180.5,146.7 1185.0,148.1 1189.5,149.5 1194.1,151.0 1198.6,152.5 1203.1,154.1 1207.6,155.7 1212.1,157.4 1216.7,159.1 1221.2,160.8 1225.7,162.6 1230.2,164.4 1234.7,166.2 1239.3,168.1 1243.8,170.1 1248.3,172.1 1252.8,174.2 1253.4,205.9 1249.9,203.8 1246.3,201.8 1242.7,199.9 1239.1,197.9 1235.5,196.0 1231.9,194.1 1228.3,192.3 1224.8,190.5 1221.2,188.7 1217.6,187.0 1214.0,185.4 1210.4,183.7 1206.8,182.2 1203.3,180.7 1199.7,179.2 1196.1,177.7 1192.5,176.3 1188.9,174.9 1185.3,173.5 1181.7,172.2 1178.2,170.9 1174.6,169.7 1171.0,168.5 1167.4,167.3 1163.8,166.2 1160.2,165.1 1156.6,164.1 1153.1,163.1 1149.5,162.1 1145.9,161.1 1142.3,160.2 1138.7,159.2 1135.1,158.4 1131.5,157.5 1128.0,156.7 1124.4,155.9 1120.8,155.2 1117.2,154.5" fill="#9932CC"/>
<polyline points="1117.2,135.6 1129.1,138.0 1141.0,140.8 1153.0,143.4 1164.9,146.7 1176.8,148.7 1188.7,152.6 1200.7,156.1 1212.6,160.5 1224.5,165.0 1236.4,169.9 1248.3,173.5 1260.3,177.8 1272.2,181.8 1284.1,186.0 1296.0,190.9 1308.0,196.3 1319.9,201.3 1331.8,208.4 1343.7,215.4 1355.7,223.0 1367.6,229.7 1379.5,236.5 1391.4,244.6 1403.3,254.2 1415.3,265.8 1427.2,280.4 1439.1,303.0" stroke="#9932CC" stroke-width="4.1" fill="none" stroke-linejoin="round" />
<polyline points="1117.2,132.2 1128.6,134.3 1140.0,136.5 1151.4,137.8 1162.8,140.1 1174.3,143.1 1185.7,145.6 1197.1,148.5 1208.5,151.0 1219.9,154.2 1231.3,158.1 1242.7,161.5 1254.1,165.3 1265.6,169.7 1277.0,174.9 1288.4,179.4 1299.8,184.4 1311.2,189.0 1322.6,193.5 1334.0,197.4 1345.4,203.0 1356.8,208.5 1368.3,214.8 1379.7,221.2 1391.1,230.1 1402.5,240.1 1413.9,252.0 1425.3,269.9" stroke="#9932CC" stroke-width="4.1" fill="none" stroke-linejoin="round" />
<polyline points="1117.2,138.2 1128.1,139.5 1138.9,141.7 1149.8,143.5 1160.7,145.7 1171.5,147.8 1182.4,151.1 1193.3,153.9 1204.1,156.3 1215.0,159.1 1225.9,162.9 1236.7,166.6 1247.6,170.3 1258.5,175.3 1269.3,180.0 1280.2,184.5 1291.1,189.3 1301.9,194.6 1312.8,200.5 1323.7,206.4 1334.5,212.5 1345.4,218.9 1356.3,225.9 1367.1,233.3 1378.0,242.6 1388.9,253.1 1399.7,266.5 1410.6,284.9" stroke="#9932CC" stroke-width="4.1" fill="none" stroke-linejoin="round" />
<polyline points="1117.2,139.9 1127.6,141.9 1137.9,144.3 1148.3,146.7 1158.6,149.3 1169.0,152.4 1179.3,155.0 1189.7,158.1 1200.0,162.1 1210.4,166.5 1220.8,170.3 1231.1,174.7 1241.5,179.5 1251.8,185.3 1262.2,191.1 1272.5,197.2 1282.9,202.7 1293.2,208.7 1303.6,215.1 1314.0,221.7 1324.3,228.3 1334.7,235.0 1345.0,242.1 1355.4,250.5 1365.7,260.4 1376.1,271.9 1386.4,286.6 1396.8,291.1" stroke="#9932CC" stroke-width="4.1" fill="none" stroke-linejoin="round" />
<polyline points="1117.2,137.6 1127.1,139.2 1137.0,141.4 1146.8,143.0 1156.7,145.2 1166.6,147.7 1176.5,150.7 1186.4,154.2 1196.2,157.5 1206.1,161.3 1216.0,165.4 1225.9,169.0 1235.7,172.0 1245.6,176.8 1255.5,180.6 1265.4,185.5 1275.3,191.3 1285.1,196.3 1295.0,201.4 1304.9,206.3 1314.8,212.6 1324.7,218.4 1334.5,223.8 1344.4,231.5 1354.3,239.9 1364.2,249.8 1374.0,262.2 1383.9,281.2" stroke="#9932CC" stroke-width="4.1" fill="none" stroke-linejoin="round" />
<polyline points="1117.2,141.7 1127.1,143.1 1137.0,144.6 1146.8,146.4 1156.7,148.3 1166.6,150.8 1176.5,154.0 1186.4,156.2 1196.2,159.0 1206.1,162.3 1216.0,165.2 1225.9,169.6 1235.7,173.1 1245.6,177.3 1255.5,181.6 1265.4,186.2 1275.3,191.4 1285.1,195.8 1295.0,201.9 1304.9,207.5 1314.8,213.0 1324.7,217.7 1334.5,223.1 1344.4,230.0 1354.3,238.4 1364.2,247.2 1374.0,258.4 1383.9,275.5" stroke="#9932CC" stroke-width="4.1" fill="none" stroke-linejoin="round" />
<polyline points="1117.2,144.5 1126.6,146.2 1135.9,147.6 1145.3,150.2 1154.7,152.1 1164.0,154.3 1173.4,156.4 1182.8,158.5 1192.1,160.6 1201.5,163.7 1210.9,167.4 1220.2,171.3 1229.6,174.3 1239.0,179.2 1248.3,183.8 1257.7,187.8 1267.1,192.6 1276.5,197.5 1285.8,202.2 1295.2,207.5 1304.6,212.5 1313.9,217.9 1323.3,223.7 1332.7,230.5 1342.0,238.8 1351.4,248.1 1360.8,259.6 1370.1,277.4" stroke="#9932CC" stroke-width="4.1" fill="none" stroke-linejoin="round" />
<polyline points="1117.2,144.9 1126.1,147.1 1134.9,149.5 1143.8,152.1 1152.6,154.4 1161.5,156.5 1170.3,159.3 1179.2,162.6 1188.1,166.2 1196.9,169.5 1205.8,173.1 1214.6,177.3 1223.5,181.4 1232.3,186.0 1241.2,191.0 1250.1,195.9 1258.9,200.8 1267.8,205.6 1276.6,210.3 1285.5,216.0 1294.3,221.5 1303.2,226.7 1312.1,232.7 1320.9,239.2 1329.8,247.4 1338.6,257.9 1347.5,269.9 1356.3,288.7" stroke="#9932CC" stroke-width="4.1" fill="none" stroke-linejoin="round" />
<polyline points="1117.2,141.3 1126.1,143.6 1134.9,145.8 1143.8,148.0 1152.6,150.1 1161.5,152.3 1170.3,154.5 1179.2,157.6 1188.1,160.5 1196.9,163.3 1205.8,166.0 1214.6,170.0 1223.5,173.0 1232.3,177.8 1241.2,182.6 1250.1,186.5 1258.9,191.0 1267.8,194.8 1276.6,200.5 1285.5,205.5 1294.3,211.1 1303.2,216.3 1312.1,220.6 1320.9,227.9 1329.8,236.0 1338.6,245.3 1347.5,256.7 1356.3,273.6" stroke="#9932CC" stroke-width="4.1" fill="none" stroke-linejoin="round" />
<polyline points="1117.2,149.1 1125.5,150.8 1133.9,152.4 1142.2,154.8 1150.6,157.8 1158.9,161.4 1167.3,165.0 1175.6,168.6 1184.0,172.0 1192.3,175.4 1200.7,180.3 1209.0,184.3 1217.4,189.1 1225.7,194.0 1234.0,197.7 1242.4,203.0 1250.7,208.5 1259.1,213.5 1267.4,219.5 1275.8,226.4 1284.1,232.1 1292.5,238.4 1300.8,244.8 1309.2,251.5 1317.5,260.5 1325.8,270.9 1334.2,284.3 1342.5,304.5" stroke="#9932CC" stroke-width="4.1" fill="none" stroke-linejoin="round" />
<polyline points="1117.2,147.0 1125.5,149.7 1133.9,151.0 1142.2,152.9 1150.6,155.0 1158.9,157.0 1167.3,158.9 1175.6,161.3 1184.0,164.9 1192.3,168.3 1200.7,172.2 1209.0,176.5 1217.4,180.5 1225.7,184.5 1234.0,188.9 1242.4,193.7 1250.7,198.5 1259.1,203.8 1267.4,209.7 1275.8,215.3 1284.1,221.3 1292.5,226.8 1300.8,233.0 1309.2,239.8 1317.5,248.3 1325.8,259.4 1334.2,272.3 1342.5,292.5" stroke="#9932CC" stroke-width="4.1" fill="none" stroke-linejoin="round" />
<polyline points="1117.2,153.2 1125.0,154.2 1132.9,156.4 1140.7,158.8 1148.5,161.6 1156.4,163.9 1164.2,165.9 1172.0,168.0 1179.9,170.7 1187.7,173.6 1195.5,177.4 1203.4,180.7 1211.2,184.0 1219.1,187.8 1226.9,192.0 1234.7,196.0 1242.6,199.6 1250.4,204.0 1258.2,208.5 1266.1,213.3 1273.9,218.4 1281.7,223.0 1289.6,228.5 1297.4,234.5 1305.2,241.7 1313.1,249.5 1320.9,260.7 1328.7,277.4" stroke="#9932CC" stroke-width="4.1" fill="none" stroke-linejoin="round" />
<polyline points="1117.2,156.4 1124.5,157.6 1131.8,159.7 1139.2,162.2 1146.5,164.4 1153.8,166.2 1161.1,168.4 1168.5,170.8 1175.8,173.2 1183.1,174.6 1190.4,178.2 1197.8,181.9 1205.1,185.4 1212.4,188.8 1219.7,192.9 1227.1,197.6 1234.4,201.6 1241.7,206.3 1249.0,210.9 1256.4,215.7 1263.7,220.7 1271.0,225.8 1278.3,230.3 1285.7,235.9 1293.0,243.1 1300.3,251.6 1307.6,261.7 1314.9,277.4" stroke="#9932CC" stroke-width="4.1" fill="none" stroke-linejoin="round" />
<polyline points="1117.2,134.2 1126.4,136.0 1135.6,137.8 1144.8,140.0 1154.0,141.4 1163.2,144.3 1172.4,147.4 1181.6,150.6 1190.8,153.9 1200.0,157.5 1209.2,161.3 1218.4,165.0 1227.6,169.2 1236.8,173.6 1246.0,177.4 1255.2,182.1 1264.4,186.7 1273.6,191.7 1282.8,197.0 1292.0,202.1 1301.2,207.4 1310.3,213.1 1319.5,218.8 1328.7,225.4 1337.9,233.4 1347.1,243.2 1356.3,255.3 1365.5,273.6" stroke="#9932CC" stroke-width="4.1" fill="none" stroke-linejoin="round" />
<polyline points="1117.2,149.2 1126.7,151.0 1136.3,152.9 1145.8,155.3 1155.4,157.9 1164.9,160.1 1174.4,162.4 1184.0,166.1 1193.5,168.8 1203.0,171.9 1212.6,175.8 1222.1,179.6 1231.7,183.1 1241.2,186.6 1250.7,191.2 1260.3,195.5 1269.8,199.4 1279.3,203.1 1288.9,207.6 1298.4,212.2 1308.0,217.2 1317.5,221.4 1327.0,226.2 1336.6,232.6 1346.1,240.3 1355.7,249.6 1365.2,260.7 1374.7,277.4" stroke="#9932CC" stroke-width="4.1" fill="none" stroke-linejoin="round" />
<polyline points="1117.2,151.3 1125.9,152.7 1134.6,155.4 1143.3,157.6 1151.9,159.1 1160.6,162.0 1169.3,164.4 1178.0,166.9 1186.7,169.6 1195.4,172.4 1204.1,176.3 1212.8,179.5 1221.4,182.8 1230.1,186.6 1238.8,190.3 1247.5,194.5 1256.2,200.1 1264.9,204.8 1273.6,210.3 1282.2,215.6 1290.9,221.2 1299.6,226.1 1308.3,231.2 1317.0,237.2 1325.7,244.7 1334.4,252.9 1343.0,264.1 1351.7,281.2" stroke="#9932CC" stroke-width="4.1" fill="none" stroke-linejoin="round" />
<polyline points="1117.2,153.0 1126.2,154.5 1135.3,156.2 1144.3,157.8 1153.3,160.3 1162.3,162.7 1171.4,165.2 1180.4,167.5 1189.4,169.7 1198.4,172.9 1207.5,176.0 1216.5,180.2 1225.5,184.5 1234.6,187.6 1243.6,191.8 1252.6,196.5 1261.6,201.1 1270.7,206.1 1279.7,211.6 1288.7,216.9 1297.7,222.5 1306.8,227.9 1315.8,233.5 1324.8,239.7 1333.9,247.0 1342.9,256.0 1351.9,267.0 1360.9,284.9" stroke="#9932CC" stroke-width="4.1" fill="none" stroke-linejoin="round" />
<polyline points="1117.2,145.9 1126.9,147.8 1136.6,149.2 1146.3,151.5 1156.0,152.9 1165.7,155.1 1175.5,157.8 1185.2,160.6 1194.9,164.1 1204.6,166.8 1214.3,170.2 1224.0,172.8 1233.7,175.8 1243.4,179.8 1253.1,183.4 1262.8,187.9 1272.5,192.5 1282.2,197.0 1292.0,201.1 1301.7,205.3 1311.4,210.3 1321.1,215.7 1330.8,220.2 1340.5,226.4 1350.2,233.5 1359.9,242.9 1369.6,254.2 1379.3,269.9" stroke="#9932CC" stroke-width="4.1" fill="none" stroke-linejoin="round" />
<polyline points="1117.2,138.7 1125.7,140.6 1134.2,142.7 1142.7,146.3 1151.3,148.0 1159.8,150.6 1168.3,153.0 1176.8,155.0 1185.3,157.8 1193.8,161.6 1202.4,164.5 1210.9,167.5 1219.4,170.8 1227.9,175.0 1236.4,179.2 1244.9,184.2 1253.5,188.8 1262.0,193.9 1270.5,199.6 1279.0,204.3 1287.5,209.9 1296.0,214.6 1304.6,220.4 1313.1,227.2 1321.6,235.3 1330.1,244.6 1338.6,256.3 1347.1,273.6" stroke="#9932CC" stroke-width="4.1" fill="none" stroke-linejoin="round" />
<polyline points="1117.2,132.2 1126.3,133.4 1135.4,135.2 1144.5,137.6 1153.7,139.6 1162.8,142.2 1171.9,144.7 1181.0,147.8 1190.1,151.1 1199.2,154.8 1208.4,157.2 1217.5,159.8 1226.6,163.4 1235.7,167.8 1244.8,172.8 1253.9,177.6 1263.1,182.9 1272.2,187.9 1281.3,193.7 1290.4,199.1 1299.5,205.3 1308.6,211.4 1317.8,218.3 1326.9,224.6 1336.0,233.9 1345.1,244.8 1354.2,258.0 1363.3,276.5" stroke="#9932CC" stroke-width="4.1" fill="none" stroke-linejoin="round" />
<polyline points="1117.2,136.9 1127.1,139.1 1137.0,141.0 1147.0,143.7 1156.9,146.2 1166.8,148.7 1176.7,151.2 1186.6,153.9 1196.6,156.9 1206.5,160.3 1216.4,162.8 1226.3,167.5 1236.2,170.9 1246.2,175.3 1256.1,179.7 1266.0,183.1 1275.9,187.2 1285.8,192.5 1295.8,197.7 1305.7,203.6 1315.6,209.4 1325.5,215.3 1335.4,221.2 1345.4,228.6 1355.3,237.2 1365.2,247.2 1375.1,259.8 1385.0,277.9" stroke="#9932CC" stroke-width="4.1" fill="none" stroke-linejoin="round" />
<polyline points="1117.2,140.6 1126.4,142.2 1135.6,144.5 1144.8,146.7 1154.0,149.3 1163.3,151.8 1172.5,153.2 1181.7,156.5 1190.9,159.2 1200.1,162.7 1209.3,166.1 1218.5,170.0 1227.7,173.5 1236.9,176.9 1246.2,180.9 1255.4,185.3 1264.6,189.4 1273.8,194.4 1283.0,200.1 1292.2,205.7 1301.4,211.2 1310.6,216.7 1319.8,222.8 1329.0,229.1 1338.3,237.4 1347.5,245.9 1356.7,257.6 1365.9,276.1" stroke="#9932CC" stroke-width="4.1" fill="none" stroke-linejoin="round" />
<polyline points="1117.2,144.0 1125.9,146.8 1134.5,148.3 1143.2,150.9 1151.8,153.8 1160.5,156.3 1169.2,159.5 1177.8,162.1 1186.5,165.3 1195.1,168.1 1203.8,171.2 1212.5,175.1 1221.1,178.6 1229.8,182.2 1238.4,185.7 1247.1,190.8 1255.8,194.8 1264.4,199.0 1273.1,203.9 1281.7,208.0 1290.4,213.5 1299.1,218.8 1307.7,225.0 1316.4,231.3 1325.0,238.7 1333.7,248.3 1342.4,260.6 1351.0,277.2" stroke="#9932CC" stroke-width="4.1" fill="none" stroke-linejoin="round" />
<polyline points="1117.2,148.0 1126.6,148.9 1136.0,150.6 1145.5,152.3 1154.9,154.4 1164.3,157.5 1173.7,159.9 1183.1,162.2 1192.5,164.7 1202.0,167.9 1211.4,170.2 1220.8,173.3 1230.2,176.8 1239.6,181.0 1249.1,185.6 1258.5,190.1 1267.9,194.3 1277.3,198.9 1286.7,203.4 1296.2,207.7 1305.6,212.4 1315.0,218.1 1324.4,222.7 1333.8,228.3 1343.2,235.7 1352.7,244.8 1362.1,256.5 1371.5,273.0" stroke="#9932CC" stroke-width="4.1" fill="none" stroke-linejoin="round" />
<polyline points="1117.2,151.4 1125.7,153.2 1134.2,155.0 1142.7,157.0 1151.2,159.1 1159.7,161.5 1168.2,163.8 1176.7,165.5 1185.2,167.6 1193.8,170.5 1202.3,174.2 1210.8,178.0 1219.3,181.7 1227.8,185.1 1236.3,189.1 1244.8,193.7 1253.3,198.7 1261.8,203.5 1270.3,208.0 1278.8,213.1 1287.3,219.0 1295.8,224.4 1304.3,229.5 1312.8,235.5 1321.3,242.9 1329.9,252.4 1338.4,263.3 1346.9,280.4" stroke="#9932CC" stroke-width="4.1" fill="none" stroke-linejoin="round" />
<polyline points="1117.2,155.5 1125.7,157.6 1134.2,159.0 1142.7,160.6 1151.2,162.6 1159.7,164.5 1168.2,167.5 1176.7,169.7 1185.2,173.2 1193.7,176.2 1202.2,179.4 1210.7,182.9 1219.2,185.7 1227.7,188.0 1236.2,192.7 1244.7,196.5 1253.2,200.1 1261.7,204.4 1270.2,208.6 1278.7,213.9 1287.2,219.1 1295.7,223.3 1304.2,227.8 1312.7,233.7 1321.2,240.1 1329.7,248.0 1338.2,258.1 1346.7,272.7" stroke="#9932CC" stroke-width="4.1" fill="none" stroke-linejoin="round" />
<polyline points="1117.2,122.7 1160.6,130.8 1200.0,139.3 1242.4,150.6 1281.9,162.1 1312.2,174.2 1342.5,186.3 1366.8,197.6 1388.0,207.6 1412.3,218.2 1439.6,231.8 1453.2,245.5 1463.8,251.6 1474.4,262.2 1482.0,269.8 1485.6,280.4" stroke="#9932CC" stroke-width="4.1" fill="none" stroke-linejoin="round" />
<polyline points="1117.2,130.2 1160.6,140.2 1200.0,150.9 1242.4,166.0 1281.9,181.8 1309.2,192.4 1330.4,200.0 1345.5,206.1 1356.2,207.6 1375.9,219.7 1397.1,232.8 1412.3,236.4 1425.9,247.6 1439.6,254.0 1451.7,259.1 1466.8,271.3 1480.5,284.9" stroke="#9932CC" stroke-width="4.1" fill="none" stroke-linejoin="round" />
</g>
<text transform="translate(1039,202) rotate(-90)" font-size="24.2" text-anchor="middle" fill="#262626" stroke="#262626" stroke-width="0.35" font-family='"Liberation Sans", sans-serif'><tspan>I</tspan><tspan dy="11.5" font-size="19.36">DS</tspan><tspan dy="-11.5"> (A.</tspan><tspan dx="1.5" font-size="22.26" font-family='"DejaVu Sans", sans-serif' font-style="italic">μ</tspan><tspan dx="1.2">m</tspan><tspan dy="-12.3" font-size="19.36">-1</tspan><tspan dy="12.3">)</tspan></text>
<text x="1301.5" y="414.5" font-size="24.2" text-anchor="middle" fill="#262626" stroke="#262626" stroke-width="0.35" font-family='"Liberation Sans", sans-serif'><tspan>V</tspan><tspan dy="11.5" font-size="19.36">GS</tspan><tspan dy="-11.5"> (V)</tspan></text>
<text x="1155.2" y="92.8" font-size="26.4" text-anchor="start" fill="#000" stroke="#000" stroke-width="0.35" font-family='"Liberation Serif", serif'><tspan font-size="25.5" font-style="italic">V</tspan><tspan dy="5.3" x="1169.4" font-size="19.2">DS</tspan><tspan dy="-5.3" x="1194.2" font-family='"Liberation Sans", sans-serif'>=1 V</tspan></text>
<rect x="1583.3" y="51.2" width="408" height="302.2" fill="none" stroke="#262626" stroke-width="2"/>
<text x="1574.7" y="361.3" font-size="21.6" text-anchor="end" fill="#262626" stroke="#262626" stroke-width="0.35" font-family='"Liberation Sans", sans-serif'>0</text>
<text x="1574.7" y="300.86" font-size="21.6" text-anchor="end" fill="#262626" stroke="#262626" stroke-width="0.35" font-family='"Liberation Sans", sans-serif'>2</text>
<text x="1574.7" y="240.42" font-size="21.6" text-anchor="end" fill="#262626" stroke="#262626" stroke-width="0.35" font-family='"Liberation Sans", sans-serif'>4</text>
<text x="1574.7" y="179.98" font-size="21.6" text-anchor="end" fill="#262626" stroke="#262626" stroke-width="0.35" font-family='"Liberation Sans", sans-serif'>6</text>
<text x="1574.7" y="119.54" font-size="21.6" text-anchor="end" fill="#262626" stroke="#262626" stroke-width="0.35" font-family='"Liberation Sans", sans-serif'>8</text>
<text x="1574.7" y="59.1" font-size="21.6" text-anchor="end" fill="#262626" stroke="#262626" stroke-width="0.35" font-family='"Liberation Sans", sans-serif'>10</text>
<path d="M1583.3 292.96h13.14M1991.3 292.96h-13.14M1583.3 232.52h13.14M1991.3 232.52h-13.14M1583.3 172.08h13.14M1991.3 172.08h-13.14M1583.3 111.64h13.14M1991.3 111.64h-13.14" stroke="#262626" stroke-width="2" fill="none"/>
<text x="1583.3" y="382.8" font-size="21.6" text-anchor="middle" fill="#262626" stroke="#262626" stroke-width="0.35" font-family='"Liberation Sans", sans-serif'>-1</text>
<text x="1685.3" y="382.8" font-size="21.6" text-anchor="middle" fill="#262626" stroke="#262626" stroke-width="0.35" font-family='"Liberation Sans", sans-serif'>-0.5</text>
<text x="1787.3" y="382.8" font-size="21.6" text-anchor="middle" fill="#262626" stroke="#262626" stroke-width="0.35" font-family='"Liberation Sans", sans-serif'>0</text>
<text x="1889.3" y="382.8" font-size="21.6" text-anchor="middle" fill="#262626" stroke="#262626" stroke-width="0.35" font-family='"Liberation Sans", sans-serif'>0.5</text>
<text x="1991.3" y="382.8" font-size="21.6" text-anchor="middle" fill="#262626" stroke="#262626" stroke-width="0.35" font-family='"Liberation Sans", sans-serif'>1</text>
<path d="M1685.3 353.4v-13.14M1685.3 51.2v13.14M1787.3 353.4v-13.14M1787.3 51.2v13.14M1889.3 353.4v-13.14M1889.3 51.2v13.14" stroke="#262626" stroke-width="2" fill="none"/>
<rect x="1664.9" y="232.52" width="55.08" height="120.88" fill="#8A2BE2" stroke="#000" stroke-width="1"/>
<rect x="1719.98" y="141.86" width="55.08" height="211.54" fill="#8A2BE2" stroke="#000" stroke-width="1"/>
<rect x="1775.06" y="172.08" width="55.08" height="181.32" fill="#8A2BE2" stroke="#000" stroke-width="1"/>
<rect x="1830.14" y="292.96" width="55.08" height="60.44" fill="#8A2BE2" stroke="#000" stroke-width="1"/>
<rect x="1885.22" y="323.18" width="55.08" height="30.22" fill="#8A2BE2" stroke="#000" stroke-width="1"/>
<text transform="translate(1540.5,203.3) rotate(-90)" font-size="24" text-anchor="middle" fill="#262626" stroke="#262626" stroke-width="0.35" font-family='"Liberation Sans", sans-serif'>Counts</text>
<text x="1787" y="414.5" font-size="24.2" text-anchor="middle" fill="#262626" stroke="#262626" stroke-width="0.35" font-family='"Liberation Sans", sans-serif'><tspan>V</tspan><tspan dy="11.5" font-size="19.36">TH,p</tspan><tspan dy="-11.5"> (V)</tspan></text>
<text x="1792.5" y="89.2" font-size="26.4" text-anchor="start" fill="#000" stroke="#000" stroke-width="0.35" font-family='"Liberation Serif", serif'><tspan font-size="29" font-style="italic">μ</tspan><tspan dy="7" x="1805.3" font-size="19.5" font-style="italic">V</tspan><tspan dy="3.3" x="1817.9" letter-spacing="1" font-size="16.5" stroke-width="0.6">TH</tspan><tspan dy="-10.3" x="1845.1" font-family='"Liberation Sans", sans-serif'>=-0.12 V</tspan></text>
<text x="1792.5" y="124.6" font-size="26.4" text-anchor="start" fill="#000" stroke="#000" stroke-width="0.35" font-family='"Liberation Serif", serif'><tspan font-size="29" font-style="italic">σ</tspan><tspan dy="7" x="1805.3" font-size="19.5" font-style="italic">V</tspan><tspan dy="3.3" x="1817.9" letter-spacing="1" font-size="16.5" stroke-width="0.6">TH</tspan><tspan dy="-10.3" x="1845.1" font-family='"Liberation Sans", sans-serif'>=0.33 V</tspan></text>
<clipPath id="ce"><rect x="103.1" y="512.5" width="302.8" height="304.2"/></clipPath>
<rect x="104.6" y="514" width="299.8" height="301.2" fill="none" stroke="#262626" stroke-width="2"/>
<text x="96.6" y="826.6" font-size="21.6" text-anchor="end" fill="#262626" stroke="#262626" stroke-width="0.35" font-family='"Liberation Sans", sans-serif'><tspan>10</tspan><tspan dy="-9.6" font-size="17.06">-14</tspan></text>
<text x="96.6" y="740.54" font-size="21.6" text-anchor="end" fill="#262626" stroke="#262626" stroke-width="0.35" font-family='"Liberation Sans", sans-serif'><tspan>10</tspan><tspan dy="-9.6" font-size="17.06">-12</tspan></text>
<text x="96.6" y="654.49" font-size="21.6" text-anchor="end" fill="#262626" stroke="#262626" stroke-width="0.35" font-family='"Liberation Sans", sans-serif'><tspan>10</tspan><tspan dy="-9.6" font-size="17.06">-10</tspan></text>
<text x="96.6" y="568.43" font-size="21.6" text-anchor="end" fill="#262626" stroke="#262626" stroke-width="0.35" font-family='"Liberation Sans", sans-serif'><tspan>10</tspan><tspan dy="-9.6" font-size="17.06">-8</tspan></text>
<path d="M104.6 729.14h9.7M404.4 729.14h-9.7M104.6 643.09h9.7M404.4 643.09h-9.7M104.6 557.03h9.7M404.4 557.03h-9.7" stroke="#262626" stroke-width="2" fill="none"/>
<path d="M104.6 802.25h4.85M404.4 802.25h-4.85M104.6 794.67h4.85M404.4 794.67h-4.85M104.6 789.29h4.85M404.4 789.29h-4.85M104.6 785.12h4.85M404.4 785.12h-4.85M104.6 781.72h4.85M404.4 781.72h-4.85M104.6 778.84h4.85M404.4 778.84h-4.85M104.6 776.34h4.85M404.4 776.34h-4.85M104.6 774.14h4.85M404.4 774.14h-4.85M104.6 772.17h4.85M404.4 772.17h-4.85M104.6 759.22h4.85M404.4 759.22h-4.85M104.6 751.64h4.85M404.4 751.64h-4.85M104.6 746.27h4.85M404.4 746.27h-4.85M104.6 742.1h4.85M404.4 742.1h-4.85M104.6 738.69h4.85M404.4 738.69h-4.85M104.6 735.81h4.85M404.4 735.81h-4.85M104.6 733.31h4.85M404.4 733.31h-4.85M104.6 731.11h4.85M404.4 731.11h-4.85M104.6 716.19h4.85M404.4 716.19h-4.85M104.6 708.61h4.85M404.4 708.61h-4.85M104.6 703.24h4.85M404.4 703.24h-4.85M104.6 699.07h4.85M404.4 699.07h-4.85M104.6 695.66h4.85M404.4 695.66h-4.85M104.6 692.78h4.85M404.4 692.78h-4.85M104.6 690.28h4.85M404.4 690.28h-4.85M104.6 688.08h4.85M404.4 688.08h-4.85M104.6 686.11h4.85M404.4 686.11h-4.85M104.6 673.16h4.85M404.4 673.16h-4.85M104.6 665.58h4.85M404.4 665.58h-4.85M104.6 660.21h4.85M404.4 660.21h-4.85M104.6 656.04h4.85M404.4 656.04h-4.85M104.6 652.63h4.85M404.4 652.63h-4.85M104.6 649.75h4.85M404.4 649.75h-4.85M104.6 647.26h4.85M404.4 647.26h-4.85M104.6 645.05h4.85M404.4 645.05h-4.85M104.6 630.13h4.85M404.4 630.13h-4.85M104.6 622.56h4.85M404.4 622.56h-4.85M104.6 617.18h4.85M404.4 617.18h-4.85M104.6 613.01h4.85M404.4 613.01h-4.85M104.6 609.6h4.85M404.4 609.6h-4.85M104.6 606.72h4.85M404.4 606.72h-4.85M104.6 604.23h4.85M404.4 604.23h-4.85M104.6 602.03h4.85M404.4 602.03h-4.85M104.6 600.06h4.85M404.4 600.06h-4.85M104.6 587.1h4.85M404.4 587.1h-4.85M104.6 579.53h4.85M404.4 579.53h-4.85M104.6 574.15h4.85M404.4 574.15h-4.85M104.6 569.98h4.85M404.4 569.98h-4.85M104.6 566.57h4.85M404.4 566.57h-4.85M104.6 563.69h4.85M404.4 563.69h-4.85M104.6 561.2h4.85M404.4 561.2h-4.85M104.6 559h4.85M404.4 559h-4.85M104.6 544.08h4.85M404.4 544.08h-4.85M104.6 536.5h4.85M404.4 536.5h-4.85M104.6 531.12h4.85M404.4 531.12h-4.85M104.6 526.95h4.85M404.4 526.95h-4.85M104.6 523.55h4.85M404.4 523.55h-4.85M104.6 520.67h4.85M404.4 520.67h-4.85M104.6 518.17h4.85M404.4 518.17h-4.85M104.6 515.97h4.85M404.4 515.97h-4.85" stroke="#262626" stroke-width="1.8" fill="none"/>
<text x="104.6" y="844.6" font-size="21.6" text-anchor="middle" fill="#262626" stroke="#262626" stroke-width="0.35" font-family='"Liberation Sans", sans-serif'>-2</text>
<text x="179.55" y="844.6" font-size="21.6" text-anchor="middle" fill="#262626" stroke="#262626" stroke-width="0.35" font-family='"Liberation Sans", sans-serif'>-1</text>
<text x="254.5" y="844.6" font-size="21.6" text-anchor="middle" fill="#262626" stroke="#262626" stroke-width="0.35" font-family='"Liberation Sans", sans-serif'>0</text>
<text x="329.45" y="844.6" font-size="21.6" text-anchor="middle" fill="#262626" stroke="#262626" stroke-width="0.35" font-family='"Liberation Sans", sans-serif'>1</text>
<text x="404.4" y="844.6" font-size="21.6" text-anchor="middle" fill="#262626" stroke="#262626" stroke-width="0.35" font-family='"Liberation Sans", sans-serif'>2</text>
<path d="M179.55 815.2v-9.7M179.55 514v9.7M254.5 815.2v-9.7M254.5 514v9.7M329.45 815.2v-9.7M329.45 514v9.7" stroke="#262626" stroke-width="2" fill="none"/>
<g clip-path="url(#ce)">
<polyline points="100.8,775.8 124.2,775.1 135.8,765.6 140.2,763.4 144.6,768.5 153.3,767.1 170.8,767.8 174.4,781.6 176.6,791.8 177.8,775.8 178.6,766.4 183.2,757.0 187.8,749.5 192.4,741.1 197.1,732.7 201.7,724.3 206.3,715.9 210.9,707.6 215.5,699.4 220.1,691.5 224.7,683.8 229.3,676.3 233.9,669.1 238.5,662.3 243.1,655.7 247.7,649.4 252.3,643.3 257.0,637.3 261.6,631.5 266.2,625.9 270.8,620.5 275.4,615.4 280.0,610.6 284.6,606.1 289.2,602.0 293.8,598.1 298.4,594.6 303.0,591.3 307.6,588.2 312.2,585.4 316.9,582.8 321.5,580.5 326.1,578.4 330.7,576.6 335.3,574.9 339.9,573.3 344.5,571.9 349.1,570.5 353.7,569.2 358.3,568.0 362.9,566.9 367.5,565.9 372.1,564.9 376.8,564.0 381.4,563.1 386.0,562.3 390.6,561.5 395.2,560.8 399.8,560.3 404.4,559.6" stroke="#FFD700" stroke-width="4.6" fill="none" stroke-linejoin="round" />
<polyline points="100.8,777.3 116.9,776.5 128.5,775.8 134.4,778.7 137.3,818.1 141.6,775.8 153.3,772.9 167.9,770.0 170.8,770.0 174.2,765.0 178.9,755.8 183.6,748.5 188.3,740.2 193.0,731.9 197.7,723.4 202.4,714.9 207.1,706.4 211.8,698.0 216.5,689.9 221.2,682.0 225.9,674.4 230.6,667.1 235.3,660.1 240.0,653.4 244.7,646.9 249.4,640.7 254.1,634.7 258.8,628.9 263.5,623.3 268.1,618.0 272.8,613.0 277.5,608.2 282.2,603.8 286.9,599.7 291.6,595.9 296.3,592.4 301.0,589.2 305.7,586.2 310.4,583.4 315.1,580.9 319.8,578.6 324.5,576.4 329.2,574.5 333.9,572.8 338.6,571.2 343.3,569.7 348.0,568.4 352.7,567.1 357.4,565.9 362.1,564.8 366.8,563.7 371.5,562.7 376.2,561.7 380.9,560.8 385.6,559.9 390.3,559.1 395.0,558.4 399.7,557.8 404.4,557.0" stroke="#FFC800" stroke-width="4.6" fill="none" stroke-linejoin="round" />
<polyline points="100.8,779.4 116.9,778.0 131.4,776.5 144.6,777.3 156.2,775.8 160.6,772.9 165.0,807.9 167.9,772.9 169.7,763.5 174.5,754.7 179.3,747.5 184.1,739.4 188.9,731.1 193.7,722.6 198.5,714.0 203.3,705.2 208.1,696.6 212.8,688.3 217.6,680.3 222.4,672.6 227.2,665.1 232.0,658.0 236.8,651.1 241.6,644.5 246.4,638.2 251.2,632.2 255.9,626.3 260.7,620.8 265.5,615.5 270.3,610.6 275.1,605.9 279.9,601.5 284.7,597.5 289.5,593.7 294.3,590.2 299.0,587.1 303.8,584.1 308.6,581.5 313.4,579.0 318.2,576.6 323.0,574.5 327.8,572.5 332.6,570.7 337.4,569.1 342.1,567.6 346.9,566.2 351.7,564.9 356.5,563.7 361.3,562.6 366.1,561.5 370.9,560.4 375.7,559.4 380.5,558.5 385.2,557.6 390.0,556.7 394.8,555.9 399.6,555.2 404.4,554.4" stroke="#FFB400" stroke-width="4.6" fill="none" stroke-linejoin="round" />
<polyline points="100.8,778.7 112.5,777.3 124.2,775.8 132.9,777.3 144.6,778.7 150.4,818.1 156.2,781.6 160.6,770.0 163.1,761.3 168.0,752.9 172.9,746.0 177.9,738.1 182.8,729.9 187.7,721.4 192.6,712.5 197.6,703.5 202.5,694.6 207.4,685.9 212.3,677.7 217.3,669.8 222.2,662.1 227.1,654.8 232.0,647.7 237.0,640.9 241.9,634.4 246.8,628.3 251.7,622.5 256.7,617.0 261.6,611.8 266.5,606.9 271.4,602.4 276.4,598.1 281.3,594.1 286.2,590.4 291.1,587.0 296.1,583.9 301.0,581.1 305.9,578.5 310.8,576.0 315.8,573.7 320.7,571.5 325.6,569.5 330.5,567.6 335.5,565.9 340.4,564.4 345.3,563.0 350.2,561.7 355.2,560.5 360.1,559.3 365.0,558.2 369.9,557.1 374.9,556.0 379.8,555.0 384.7,554.0 389.6,553.1 394.6,552.2 399.5,551.5 404.4,550.6" stroke="#FFA000" stroke-width="4.6" fill="none" stroke-linejoin="round" />
<polyline points="100.8,781.6 109.6,775.8 114.0,786.0 118.3,818.1 121.2,787.5 124.2,778.7 130.0,788.9 134.4,787.5 140.2,774.3 146.0,770.0 148.9,818.1 154.8,818.1 158.4,775.8 159.5,760.1 164.5,752.0 169.5,745.2 174.5,737.4 179.5,729.3 184.5,720.7 189.5,711.7 194.5,702.5 199.5,693.5 204.5,684.7 209.5,676.3 214.5,668.3 219.5,660.5 224.5,653.0 229.5,645.8 234.5,638.9 239.5,632.4 244.5,626.2 249.5,620.4 254.5,614.9 259.5,609.8 264.5,605.0 269.5,600.5 274.5,596.2 279.5,592.3 284.5,588.6 289.5,585.3 294.5,582.2 299.5,579.5 304.5,576.9 309.4,574.5 314.4,572.2 319.4,569.9 324.4,567.8 329.4,565.9 334.4,564.2 339.4,562.7 344.4,561.3 349.4,560.0 354.4,558.8 359.4,557.6 364.4,556.4 369.4,555.3 374.4,554.2 379.4,553.2 384.4,552.1 389.4,551.2 394.4,550.2 399.4,549.4 404.4,548.5" stroke="#FF8C00" stroke-width="4.6" fill="none" stroke-linejoin="round" />
<polyline points="100.8,788.9 108.1,777.3 114.0,778.7 121.2,777.3 128.5,795.5 134.4,793.3 138.7,781.6 146.0,772.9 152.6,775.8 156.4,759.1 161.5,751.1 166.5,744.5 171.6,736.8 176.7,728.7 181.7,720.1 186.8,711.0 191.8,701.7 196.9,692.5 202.0,683.6 207.0,675.1 212.1,666.9 217.1,659.1 222.2,651.5 227.3,644.2 232.3,637.3 237.4,630.6 242.5,624.4 247.5,618.6 252.6,613.2 257.6,608.1 262.7,603.3 267.8,598.8 272.8,594.6 277.9,590.7 282.9,587.1 288.0,583.8 293.1,580.8 298.1,578.0 303.2,575.5 308.2,573.1 313.3,570.8 318.4,568.5 323.4,566.4 328.5,564.5 333.5,562.8 338.6,561.2 343.7,559.8 348.7,558.5 353.8,557.2 358.9,556.0 363.9,554.9 369.0,553.7 374.0,552.6 379.1,551.5 384.2,550.5 389.2,549.5 394.3,548.5 399.3,547.7 404.4,546.7" stroke="#FF7800" stroke-width="4.6" fill="none" stroke-linejoin="round" />
<polyline points="104.6,807.1 110.2,775.7 115.7,777.5 126.8,757.2 134.2,757.2 145.3,736.9 163.8,702.9 178.6,675.6 193.1,654.2 206.4,637.9 220.1,623.9 234.9,610.6 250.1,598.4 264.9,588.1 280.0,578.8 295.2,571.4 310.0,565.5 325.2,560.4 340.4,555.9 370.3,548.9 404.4,543.7" stroke="#FF5A00" stroke-width="4.8" fill="none" stroke-linejoin="round" />
<polyline points="104.6,754.6 110.7,743.7 116.8,734.6 123.0,724.1 129.1,713.2 135.2,702.0 141.3,690.9 147.4,680.0 153.5,669.7 159.7,660.1 165.8,651.3 171.9,643.4 178.0,636.4 184.1,630.1 190.3,624.1 196.4,618.6 202.5,613.4 208.6,608.5 214.7,604.0 220.8,599.7 227.0,595.8 233.1,592.0 239.2,588.5 245.3,585.2 251.4,582.1 257.6,579.3 263.7,576.6 269.8,574.2 275.9,571.8 282.0,569.6 288.2,567.6 294.3,565.6 300.4,563.7 306.5,561.9 312.6,560.2 318.7,558.5 324.9,557.0 331.0,555.6 337.1,554.3 343.2,553.0 349.3,551.9 355.5,550.7 361.6,549.6 367.7,548.5 373.8,547.4 379.9,546.2 386.0,545.1 392.2,544.0 398.3,543.1 404.4,541.9" stroke="#FF4500" stroke-width="4.8" fill="none" stroke-linejoin="round" />
</g>
<text transform="translate(26,666) rotate(-90)" font-size="24.2" text-anchor="middle" fill="#262626" stroke="#262626" stroke-width="0.35" font-family='"Liberation Sans", sans-serif'><tspan>I</tspan><tspan dy="11.5" font-size="19.36">DS</tspan><tspan dy="-11.5"> (A.</tspan><tspan dx="1.5" font-size="22.26" font-family='"DejaVu Sans", sans-serif' font-style="italic">μ</tspan><tspan dx="1.2">m</tspan><tspan dy="-12.3" font-size="19.36">-1</tspan><tspan dy="12.3">)</tspan></text>
<text x="254.5" y="877.5" font-size="24.2" text-anchor="middle" fill="#262626" stroke="#262626" stroke-width="0.35" font-family='"Liberation Sans", sans-serif'><tspan>V</tspan><tspan dy="11.5" font-size="19.36">GS</tspan><tspan dy="-11.5"> (V)</tspan></text>
<text x="136.7" y="557.2" font-size="26.4" text-anchor="start" fill="#000" stroke="#000" stroke-width="0.35" font-family='"Liberation Serif", serif'><tspan font-size="25.5" font-style="italic">V</tspan><tspan dy="5.3" x="150.9" font-size="19.2">DS</tspan><tspan dy="-5.3" x="175.7" font-family='"Liberation Sans", sans-serif'>=0.1 V</tspan></text>
<text x="136.7" y="589.5" font-size="26.4" text-anchor="start" fill="#000" stroke="#000" stroke-width="0.35" font-family='"Liberation Serif", serif'><tspan font-size="27" font-style="italic">t</tspan><tspan x="147.5" font-family='"Liberation Sans", sans-serif'>=100 µs</tspan></text>
<defs><linearGradient id="cbg" x1="0" y1="0" x2="0" y2="1">
<stop offset="0.0040" stop-color="#FF4500"/><stop offset="0.1210" stop-color="#FF4500"/>
<stop offset="0.1290" stop-color="#FF5A00"/><stop offset="0.2460" stop-color="#FF5A00"/>
<stop offset="0.2540" stop-color="#FF7800"/><stop offset="0.3710" stop-color="#FF7800"/>
<stop offset="0.3790" stop-color="#FF8C00"/><stop offset="0.4960" stop-color="#FF8C00"/>
<stop offset="0.5040" stop-color="#FFA000"/><stop offset="0.6210" stop-color="#FFA000"/>
<stop offset="0.6290" stop-color="#FFB400"/><stop offset="0.7460" stop-color="#FFB400"/>
<stop offset="0.7540" stop-color="#FFC800"/><stop offset="0.8710" stop-color="#FFC800"/>
<stop offset="0.8790" stop-color="#FFD700"/><stop offset="0.9960" stop-color="#FFD700"/>
</linearGradient></defs>
<rect x="422.8" y="514.0" width="25.6" height="301.2" fill="url(#cbg)" stroke="#262626" stroke-width="1.2"/>
<path d="M445 532.5L448.4 532.5" stroke="#262626" stroke-width="1.3" fill="none"/>
<text x="455.2" y="539.8" font-size="20" text-anchor="start" fill="#262626" stroke="#262626" stroke-width="0.35" font-family='"Liberation Sans", sans-serif'>-12</text>
<path d="M445 570.2L448.4 570.2" stroke="#262626" stroke-width="1.3" fill="none"/>
<text x="455.2" y="577.5" font-size="20" text-anchor="start" fill="#262626" stroke="#262626" stroke-width="0.35" font-family='"Liberation Sans", sans-serif'>-11.75</text>
<path d="M445 607.9L448.4 607.9" stroke="#262626" stroke-width="1.3" fill="none"/>
<text x="455.2" y="615.2" font-size="20" text-anchor="start" fill="#262626" stroke="#262626" stroke-width="0.35" font-family='"Liberation Sans", sans-serif'>-11.5</text>
<path d="M445 645.6L448.4 645.6" stroke="#262626" stroke-width="1.3" fill="none"/>
<text x="455.2" y="652.9" font-size="20" text-anchor="start" fill="#262626" stroke="#262626" stroke-width="0.35" font-family='"Liberation Sans", sans-serif'>-11.25</text>
<path d="M445 683.3L448.4 683.3" stroke="#262626" stroke-width="1.3" fill="none"/>
<text x="455.2" y="690.6" font-size="20" text-anchor="start" fill="#262626" stroke="#262626" stroke-width="0.35" font-family='"Liberation Sans", sans-serif'>-11</text>
<path d="M445 721L448.4 721" stroke="#262626" stroke-width="1.3" fill="none"/>
<text x="455.2" y="728.3" font-size="20" text-anchor="start" fill="#262626" stroke="#262626" stroke-width="0.35" font-family='"Liberation Sans", sans-serif'>-10</text>
<path d="M445 758.7L448.4 758.7" stroke="#262626" stroke-width="1.3" fill="none"/>
<text x="455.2" y="766" font-size="20" text-anchor="start" fill="#262626" stroke="#262626" stroke-width="0.35" font-family='"Liberation Sans", sans-serif'>-9</text>
<path d="M445 796.4L448.4 796.4" stroke="#262626" stroke-width="1.3" fill="none"/>
<text x="455.2" y="803.7" font-size="20" text-anchor="start" fill="#262626" stroke="#262626" stroke-width="0.35" font-family='"Liberation Sans", sans-serif'>0</text>
<text x="408.2" y="506.3" font-size="21" text-anchor="start" fill="#000" stroke="#000" stroke-width="0.35" font-family='"Liberation Serif", serif'><tspan font-size="21" font-style="italic">V</tspan><tspan dy="3.8" x="419.3" font-size="15.5" font-weight="bold">P</tspan><tspan dy="-3.8" x="430.4" font-size="22.5" font-family='"Liberation Sans", sans-serif' font-style="italic">(V)</tspan></text>
<rect x="609.5" y="515.1" width="369.1" height="310.6" fill="none" stroke="#262626" stroke-width="2"/>
<text x="601.5" y="837.1" font-size="21.6" text-anchor="end" fill="#262626" stroke="#262626" stroke-width="0.35" font-family='"Liberation Sans", sans-serif'><tspan>10</tspan><tspan dy="-9.6" font-size="17.06">-10</tspan></text>
<text x="601.5" y="733.57" font-size="21.6" text-anchor="end" fill="#262626" stroke="#262626" stroke-width="0.35" font-family='"Liberation Sans", sans-serif'><tspan>10</tspan><tspan dy="-9.6" font-size="17.06">-9</tspan></text>
<text x="601.5" y="630.03" font-size="21.6" text-anchor="end" fill="#262626" stroke="#262626" stroke-width="0.35" font-family='"Liberation Sans", sans-serif'><tspan>10</tspan><tspan dy="-9.6" font-size="17.06">-8</tspan></text>
<text x="601.5" y="526.5" font-size="21.6" text-anchor="end" fill="#262626" stroke="#262626" stroke-width="0.35" font-family='"Liberation Sans", sans-serif'><tspan>10</tspan><tspan dy="-9.6" font-size="17.06">-7</tspan></text>
<path d="M609.5 722.17h11.89M978.6 722.17h-11.89M609.5 618.63h11.89M978.6 618.63h-11.89" stroke="#262626" stroke-width="2" fill="none"/>
<path d="M609.5 794.53h5.94M978.6 794.53h-5.94M609.5 776.3h5.94M978.6 776.3h-5.94M609.5 763.37h5.94M978.6 763.37h-5.94M609.5 753.33h5.94M978.6 753.33h-5.94M609.5 745.14h5.94M978.6 745.14h-5.94M609.5 738.2h5.94M978.6 738.2h-5.94M609.5 732.2h5.94M978.6 732.2h-5.94M609.5 726.9h5.94M978.6 726.9h-5.94M609.5 691h5.94M978.6 691h-5.94M609.5 672.77h5.94M978.6 672.77h-5.94M609.5 659.83h5.94M978.6 659.83h-5.94M609.5 649.8h5.94M978.6 649.8h-5.94M609.5 641.6h5.94M978.6 641.6h-5.94M609.5 634.67h5.94M978.6 634.67h-5.94M609.5 628.67h5.94M978.6 628.67h-5.94M609.5 623.37h5.94M978.6 623.37h-5.94M609.5 587.47h5.94M978.6 587.47h-5.94M609.5 569.24h5.94M978.6 569.24h-5.94M609.5 556.3h5.94M978.6 556.3h-5.94M609.5 546.27h5.94M978.6 546.27h-5.94M609.5 538.07h5.94M978.6 538.07h-5.94M609.5 531.14h5.94M978.6 531.14h-5.94M609.5 525.13h5.94M978.6 525.13h-5.94M609.5 519.84h5.94M978.6 519.84h-5.94" stroke="#262626" stroke-width="1.8" fill="none"/>
<text x="701.77" y="855.1" font-size="21.6" text-anchor="middle" fill="#262626" stroke="#262626" stroke-width="0.35" font-family='"Liberation Sans", sans-serif'>500</text>
<text x="794.05" y="855.1" font-size="21.6" text-anchor="middle" fill="#262626" stroke="#262626" stroke-width="0.35" font-family='"Liberation Sans", sans-serif'>1000</text>
<text x="886.33" y="855.1" font-size="21.6" text-anchor="middle" fill="#262626" stroke="#262626" stroke-width="0.35" font-family='"Liberation Sans", sans-serif'>1500</text>
<text x="978.6" y="855.1" font-size="21.6" text-anchor="middle" fill="#262626" stroke="#262626" stroke-width="0.35" font-family='"Liberation Sans", sans-serif'>2000</text>
<path d="M701.77 825.7v-11.89M701.77 515.1v11.89M794.05 825.7v-11.89M794.05 515.1v11.89M886.33 825.7v-11.89M886.33 515.1v11.89" stroke="#262626" stroke-width="2" fill="none"/>
<clipPath id="cf"><rect x="607.3" y="512.9" width="373.5" height="315"/></clipPath>
<g clip-path="url(#cf)">
<polyline points="605.8,755.3 606.6,756.3 607.3,752.8 608.1,756.1 608.8,755.7 609.6,753.8 610.3,756.9 611.1,756.5 611.8,755.6 612.6,756.2 613.4,757.3 614.1,756.0 614.9,756.2 615.6,755.0 616.4,757.8 617.1,756.6 617.9,754.3 618.6,753.4 619.4,757.6 620.1,754.9 620.9,756.9 621.7,756.8 622.4,756.8 623.2,756.2 623.9,754.5 624.7,754.8 625.4,755.6 626.2,756.1 626.9,755.7 627.7,755.8 628.4,754.7 629.2,756.4 630.0,755.7 630.7,755.8 631.5,755.7 632.2,755.3 633.0,755.4 633.7,754.0 634.5,755.7 635.2,753.7 636.0,756.0 636.7,756.2 637.5,755.5 638.3,755.1 639.0,755.2 639.8,754.0 640.5,754.1 641.3,754.9 642.0,756.0 642.8,755.7 643.5,753.8 644.3,755.2 645.0,757.1 645.8,756.4 646.6,756.2 647.3,754.1 648.1,755.6 648.8,752.7 649.6,754.7 650.3,755.3 651.1,756.0 651.8,754.3 652.6,755.8 653.3,756.5 654.1,754.7 654.8,755.4 655.6,753.9 656.4,755.5 657.1,759.0 657.9,754.4 658.6,757.7 659.4,753.5 660.1,753.1 660.9,755.9 661.6,756.8 662.4,757.1 663.1,754.3 663.9,755.6 664.7,756.1 665.4,755.6 666.2,752.7 666.9,754.9 667.7,754.4 668.4,754.4 669.2,754.0 669.9,754.0 670.7,756.2 671.4,755.6 672.2,756.2 673.0,756.2 673.7,753.9 674.5,755.9 675.2,755.4 676.0,756.1 676.7,756.0 677.5,754.3 678.2,755.8 679.0,755.8 679.7,754.6 680.5,754.6 681.3,754.2 682.0,755.0 682.8,757.4 683.5,754.4 684.3,754.6 685.0,753.9 685.8,756.2 686.5,752.0 687.3,756.7 688.0,754.3 688.8,755.1 689.6,755.7 690.3,754.1 691.1,755.5 691.8,758.0 692.6,756.6 693.3,754.5 694.1,752.3 694.8,756.9 695.6,755.1 696.3,753.3 697.1,754.3 697.9,755.5 698.6,756.8 699.4,757.3 700.1,756.0 700.9,755.5 701.6,757.8 702.4,757.1 703.1,754.6 703.9,755.5 704.6,756.0 705.4,755.5 706.2,756.0 706.9,753.8 707.7,753.0 708.4,752.4 709.2,754.1 709.9,754.0 710.7,753.1 711.4,752.8 712.2,753.1 712.9,753.4 713.7,755.7 714.5,756.9 715.2,753.8 716.0,755.0 716.7,755.0 717.5,756.0 718.2,756.5 719.0,753.2 719.7,754.3 720.5,756.2 721.2,754.4 722.0,754.5 722.8,754.2 723.5,752.1 724.3,754.9 725.0,756.4 725.8,754.8 726.5,755.6 727.3,754.1 728.0,754.6 728.8,754.4 729.5,755.5 730.3,754.3 731.1,755.4 731.8,754.1 732.6,755.2 733.3,756.2 734.1,754.1 734.8,755.6 735.6,753.0 736.3,754.2 737.1,754.2 737.8,754.6 738.6,754.8 739.4,757.7 740.1,753.2 740.9,755.7 741.6,753.5 742.4,755.5 743.1,754.9 743.9,755.0 744.6,756.0 745.4,754.9 746.1,754.1 746.9,755.2 747.6,756.2 748.4,755.4 749.2,754.3 749.9,753.2 750.7,753.6 751.4,754.3 752.2,755.9 752.9,753.5 753.7,754.6 754.4,754.9 755.2,753.5 755.9,753.8 756.7,754.0 757.5,756.0 758.2,755.3 759.0,756.7 759.7,754.3 760.5,754.5 761.2,753.4 762.0,754.3 762.7,755.0 763.5,751.9 764.2,755.8 765.0,756.2 765.8,755.3 766.5,753.8 767.3,754.9 768.0,755.0 768.8,755.9 769.5,752.6 770.3,755.2 771.0,755.8 771.8,754.6 772.5,755.4 773.3,754.7 774.1,752.8 774.8,755.0 775.6,754.5 776.3,754.9 777.1,754.6 777.8,753.4 778.6,753.7 779.3,754.8 780.1,755.5 780.8,754.5 781.6,753.3 782.4,754.4 783.1,754.5 783.9,756.6 784.6,753.1 785.4,756.2 786.1,755.9 786.9,754.8 787.6,754.3 788.4,754.3 789.1,755.3 789.9,754.7 790.7,755.0 791.4,756.5 792.2,754.6 792.9,755.1 793.7,753.7 794.4,754.4 795.2,753.1 795.9,753.4 796.7,753.1 797.4,752.7 798.2,753.4 799.0,754.4 799.7,752.5 800.5,755.4 801.2,754.2 802.0,753.1 802.7,754.5 803.5,753.3 804.2,755.2 805.0,754.8 805.7,753.5 806.5,753.3 807.3,752.7 808.0,754.2 808.8,753.8 809.5,753.4 810.3,753.5 811.0,755.7 811.8,754.8 812.5,752.3 813.3,755.6 814.0,753.3 814.8,754.6 815.6,752.8 816.3,755.0 817.1,754.0 817.8,756.6 818.6,754.1 819.3,752.7 820.1,755.9 820.8,752.6 821.6,754.9 822.3,754.1 823.1,757.5 823.9,752.7 824.6,755.1 825.4,754.7 826.1,755.6 826.9,755.2 827.6,752.6 828.4,754.6 829.1,752.9 829.9,754.2 830.6,753.5 831.4,754.6 832.2,753.4 832.9,750.7 833.7,753.1 834.4,753.3 835.2,754.5 835.9,752.7 836.7,752.2 837.4,756.0 838.2,755.6 838.9,751.3 839.7,753.3 840.5,753.7 841.2,753.2 842.0,752.5 842.7,752.9 843.5,754.1 844.2,751.3 845.0,753.8 845.7,754.9 846.5,754.5 847.2,754.0 848.0,754.3 848.7,754.0 849.5,753.4 850.3,757.9 851.0,754.8 851.8,752.6 852.5,753.1 853.3,754.6 854.0,754.5 854.8,752.3 855.5,754.1 856.3,754.4 857.0,751.4 857.8,754.2 858.6,752.9 859.3,753.8 860.1,753.6 860.8,754.9 861.6,754.7 862.3,752.1 863.1,755.1 863.8,753.3 864.6,755.2 865.3,754.0 866.1,753.7 866.9,755.7 867.6,752.2 868.4,753.9 869.1,752.1 869.9,754.8 870.6,752.5 871.4,750.7 872.1,753.3 872.9,754.4 873.6,753.0 874.4,753.4 875.2,753.8 875.9,753.7 876.7,754.3 877.4,753.0 878.2,754.0 878.9,754.6 879.7,752.5 880.4,753.7 881.2,750.2 881.9,753.8 882.7,754.4 883.5,754.2 884.2,753.0 885.0,754.4 885.7,755.1 886.5,751.4 887.2,755.0 888.0,751.6 888.7,753.3 889.5,754.8 890.2,751.4 891.0,753.7 891.8,754.7 892.5,753.4 893.3,751.8 894.0,752.6 894.8,752.4 895.5,751.2 896.3,753.1 897.0,752.9 897.8,753.7 898.5,755.2 899.3,753.6 900.1,751.4 900.8,755.5 901.6,751.7 902.3,753.0 903.1,754.5 903.8,753.3 904.6,751.1 905.3,754.0 906.1,752.3 906.8,751.9 907.6,754.4 908.4,752.5 909.1,752.6 909.9,753.9 910.6,752.4 911.4,753.7 912.1,754.0 912.9,754.8 913.6,752.8 914.4,753.8 915.1,753.9 915.9,754.7 916.7,754.9 917.4,754.2 918.2,752.3 918.9,754.2 919.7,751.4 920.4,752.7 921.2,753.0 921.9,754.7 922.7,750.8 923.4,755.0 924.2,752.5 925.0,751.1 925.7,753.4 926.5,754.0 927.2,753.2 928.0,752.0 928.7,751.4 929.5,752.4 930.2,754.4 931.0,753.9 931.7,752.9 932.5,754.7 933.3,753.4 934.0,750.3 934.8,754.4 935.5,751.6 936.3,754.2 937.0,753.5 937.8,753.1 938.5,754.9 939.3,753.2 940.0,751.4 940.8,752.1 941.5,752.2 942.3,754.0 943.1,753.2 943.8,752.8 944.6,752.2 945.3,751.3 946.1,754.2 946.8,750.9 947.6,753.3 948.3,753.3 949.1,754.5 949.8,753.0 950.6,753.2 951.4,754.5 952.1,753.3 952.9,752.8 953.6,753.4 954.4,751.9 955.1,754.2 955.9,751.8 956.6,753.1 957.4,752.4 958.1,755.2 958.9,752.7 959.7,752.9 960.4,751.7 961.2,754.3 961.9,751.2 962.7,754.2 963.4,751.2 964.2,752.1 964.9,753.8 965.7,750.1 966.4,754.3 967.2,753.0 968.0,752.5 968.7,752.1 969.5,752.5 970.2,751.8 971.0,752.2 971.7,752.7 972.5,753.9 973.2,753.2 974.0,751.6 974.7,754.2 975.5,752.6 976.3,755.3 977.0,753.6 977.8,754.7 978.5,751.2 979.3,755.0 980.0,753.0 980.8,751.8 981.5,751.9 982.3,751.7" stroke="#FF4500" stroke-width="5.3" fill="none" stroke-linejoin="round" />
<polyline points="605.8,693.2 606.6,693.5 607.3,693.3 608.1,693.7 608.8,693.7 609.6,694.6 610.3,693.6 611.1,693.0 611.8,694.1 612.6,694.3 613.4,693.6 614.1,693.1 614.9,693.0 615.6,694.4 616.4,693.4 617.1,693.9 617.9,693.5 618.6,694.8 619.4,693.1 620.1,693.8 620.9,693.5 621.7,693.7 622.4,694.1 623.2,693.3 623.9,693.8 624.7,693.9 625.4,693.2 626.2,693.6 626.9,693.9 627.7,693.0 628.4,693.8 629.2,693.5 630.0,693.1 630.7,693.0 631.5,692.8 632.2,692.6 633.0,693.4 633.7,693.8 634.5,692.6 635.2,692.7 636.0,693.6 636.7,693.0 637.5,693.6 638.3,694.2 639.0,692.8 639.8,693.2 640.5,693.3 641.3,692.5 642.0,692.6 642.8,693.7 643.5,693.9 644.3,694.3 645.0,693.3 645.8,693.5 646.6,693.1 647.3,693.3 648.1,693.6 648.8,693.5 649.6,694.1 650.3,692.6 651.1,693.5 651.8,692.9 652.6,693.6 653.3,693.2 654.1,692.9 654.8,693.3 655.6,693.6 656.4,692.0 657.1,693.3 657.9,692.9 658.6,693.2 659.4,693.5 660.1,692.4 660.9,692.9 661.6,692.9 662.4,694.3 663.1,692.9 663.9,692.6 664.7,692.9 665.4,693.1 666.2,692.4 666.9,692.9 667.7,692.7 668.4,692.5 669.2,692.5 669.9,693.7 670.7,692.8 671.4,693.4 672.2,694.0 673.0,692.8 673.7,693.9 674.5,693.2 675.2,694.3 676.0,693.5 676.7,693.2 677.5,692.9 678.2,693.2 679.0,693.4 679.7,693.4 680.5,692.1 681.3,693.1 682.0,692.9 682.8,691.9 683.5,693.8 684.3,693.9 685.0,693.4 685.8,693.0 686.5,693.4 687.3,692.8 688.0,692.9 688.8,693.6 689.6,692.7 690.3,693.5 691.1,692.4 691.8,692.7 692.6,691.6 693.3,692.3 694.1,692.9 694.8,692.6 695.6,692.7 696.3,693.1 697.1,693.5 697.9,692.1 698.6,691.9 699.4,692.9 700.1,692.8 700.9,692.9 701.6,692.1 702.4,692.0 703.1,693.1 703.9,692.8 704.6,692.9 705.4,692.5 706.2,692.2 706.9,692.1 707.7,692.7 708.4,693.1 709.2,692.3 709.9,692.3 710.7,692.7 711.4,692.5 712.2,692.4 712.9,692.1 713.7,692.5 714.5,692.3 715.2,692.4 716.0,693.0 716.7,692.1 717.5,692.4 718.2,691.9 719.0,693.1 719.7,692.8 720.5,692.3 721.2,693.3 722.0,692.5 722.8,692.7 723.5,692.7 724.3,692.6 725.0,693.6 725.8,692.4 726.5,692.4 727.3,691.9 728.0,691.7 728.8,692.3 729.5,692.0 730.3,693.7 731.1,692.2 731.8,691.9 732.6,692.0 733.3,692.3 734.1,692.6 734.8,692.6 735.6,692.4 736.3,692.2 737.1,692.2 737.8,692.5 738.6,693.1 739.4,691.5 740.1,692.9 740.9,693.8 741.6,691.7 742.4,691.9 743.1,692.4 743.9,691.9 744.6,692.2 745.4,692.9 746.1,692.4 746.9,693.1 747.6,692.8 748.4,692.9 749.2,692.4 749.9,691.9 750.7,692.8 751.4,692.2 752.2,693.6 752.9,693.0 753.7,692.2 754.4,692.0 755.2,692.0 755.9,691.9 756.7,693.3 757.5,692.7 758.2,693.8 759.0,692.5 759.7,692.3 760.5,692.6 761.2,692.9 762.0,692.2 762.7,692.2 763.5,692.4 764.2,692.8 765.0,692.4 765.8,692.4 766.5,692.3 767.3,692.1 768.0,692.5 768.8,693.2 769.5,692.6 770.3,692.3 771.0,692.7 771.8,692.3 772.5,692.8 773.3,691.8 774.1,692.2 774.8,692.4 775.6,692.1 776.3,692.1 777.1,692.4 777.8,691.9 778.6,692.1 779.3,692.3 780.1,692.5 780.8,693.0 781.6,692.4 782.4,692.4 783.1,692.9 783.9,691.7 784.6,692.5 785.4,693.0 786.1,692.7 786.9,692.5 787.6,692.5 788.4,692.9 789.1,692.4 789.9,693.2 790.7,692.7 791.4,692.2 792.2,692.8 792.9,692.1 793.7,692.0 794.4,692.8 795.2,693.7 795.9,692.0 796.7,691.8 797.4,693.3 798.2,692.3 799.0,692.3 799.7,693.3 800.5,692.7 801.2,691.8 802.0,692.3 802.7,692.4 803.5,691.8 804.2,692.7 805.0,693.4 805.7,691.7 806.5,692.8 807.3,692.4 808.0,691.8 808.8,692.3 809.5,692.4 810.3,692.8 811.0,692.1 811.8,691.3 812.5,692.7 813.3,693.0 814.0,692.3 814.8,692.8 815.6,692.4 816.3,692.4 817.1,692.2 817.8,692.3 818.6,692.3 819.3,691.8 820.1,692.9 820.8,692.4 821.6,692.3 822.3,693.1 823.1,692.9 823.9,692.6 824.6,692.7 825.4,691.8 826.1,692.4 826.9,690.9 827.6,692.6 828.4,692.6 829.1,691.3 829.9,692.7 830.6,691.3 831.4,694.0 832.2,692.8 832.9,691.7 833.7,691.6 834.4,692.2 835.2,692.8 835.9,692.5 836.7,692.0 837.4,692.3 838.2,691.9 838.9,692.8 839.7,692.0 840.5,691.8 841.2,690.8 842.0,692.0 842.7,692.1 843.5,692.9 844.2,693.1 845.0,693.6 845.7,692.2 846.5,691.4 847.2,692.5 848.0,693.7 848.7,692.3 849.5,692.5 850.3,692.6 851.0,691.5 851.8,691.8 852.5,691.6 853.3,692.8 854.0,692.2 854.8,693.0 855.5,691.8 856.3,693.0 857.0,691.8 857.8,692.3 858.6,692.3 859.3,693.2 860.1,692.0 860.8,693.4 861.6,693.1 862.3,692.9 863.1,691.3 863.8,692.4 864.6,692.8 865.3,692.1 866.1,691.2 866.9,692.5 867.6,693.0 868.4,693.0 869.1,692.4 869.9,691.5 870.6,692.5 871.4,692.5 872.1,692.9 872.9,693.0 873.6,691.9 874.4,692.2 875.2,692.2 875.9,693.1 876.7,692.1 877.4,692.3 878.2,691.6 878.9,691.9 879.7,692.5 880.4,692.3 881.2,692.3 881.9,692.5 882.7,692.9 883.5,692.0 884.2,691.3 885.0,692.5 885.7,691.6 886.5,692.6 887.2,692.6 888.0,692.4 888.7,692.6 889.5,691.9 890.2,691.8 891.0,693.8 891.8,692.0 892.5,692.2 893.3,691.5 894.0,692.9 894.8,692.4 895.5,691.8 896.3,692.0 897.0,691.6 897.8,692.8 898.5,692.8 899.3,692.1 900.1,693.1 900.8,692.2 901.6,691.9 902.3,692.2 903.1,693.1 903.8,692.7 904.6,692.6 905.3,692.2 906.1,692.3 906.8,692.7 907.6,693.3 908.4,693.4 909.1,693.0 909.9,693.0 910.6,692.8 911.4,693.0 912.1,692.5 912.9,692.8 913.6,692.3 914.4,692.5 915.1,692.1 915.9,692.9 916.7,692.9 917.4,693.0 918.2,692.4 918.9,692.1 919.7,691.9 920.4,692.4 921.2,692.5 921.9,692.1 922.7,692.5 923.4,693.0 924.2,692.1 925.0,692.7 925.7,693.2 926.5,692.5 927.2,692.9 928.0,692.5 928.7,692.8 929.5,692.6 930.2,692.8 931.0,692.5 931.7,692.2 932.5,692.3 933.3,692.5 934.0,691.9 934.8,693.2 935.5,692.4 936.3,691.8 937.0,692.2 937.8,691.9 938.5,692.9 939.3,691.9 940.0,692.8 940.8,691.9 941.5,692.3 942.3,692.0 943.1,692.9 943.8,692.6 944.6,693.4 945.3,692.3 946.1,692.1 946.8,692.3 947.6,691.9 948.3,692.1 949.1,692.4 949.8,692.1 950.6,692.7 951.4,692.0 952.1,692.3 952.9,692.3 953.6,692.5 954.4,692.7 955.1,692.9 955.9,692.6 956.6,692.1 957.4,693.3 958.1,692.4 958.9,690.6 959.7,692.3 960.4,692.5 961.2,692.2 961.9,692.5 962.7,692.3 963.4,692.3 964.2,692.9 964.9,691.8 965.7,692.3 966.4,691.8 967.2,692.3 968.0,691.8 968.7,692.4 969.5,690.8 970.2,691.8 971.0,691.7 971.7,692.4 972.5,693.2 973.2,692.5 974.0,692.1 974.7,692.3 975.5,692.7 976.3,692.8 977.0,693.0 977.8,692.6 978.5,692.1 979.3,692.0 980.0,692.1 980.8,692.5 981.5,692.3 982.3,692.4" stroke="#FF6F12" stroke-width="4.9" fill="none" stroke-linejoin="round" />
<polyline points="605.8,667.0 606.6,667.1 607.3,666.9 608.1,667.3 608.8,667.3 609.6,666.5 610.3,666.6 611.1,668.3 611.8,667.1 612.6,667.1 613.4,666.8 614.1,668.4 614.9,668.1 615.6,667.5 616.4,667.2 617.1,667.9 617.9,666.7 618.6,666.8 619.4,667.0 620.1,666.9 620.9,667.9 621.7,667.4 622.4,668.5 623.2,666.8 623.9,666.7 624.7,667.1 625.4,667.8 626.2,667.3 626.9,666.8 627.7,667.9 628.4,667.2 629.2,666.9 630.0,667.7 630.7,667.6 631.5,666.7 632.2,666.9 633.0,666.6 633.7,667.2 634.5,667.8 635.2,667.3 636.0,667.6 636.7,667.4 637.5,667.0 638.3,666.5 639.0,667.2 639.8,666.3 640.5,668.0 641.3,667.4 642.0,667.3 642.8,668.4 643.5,668.1 644.3,667.4 645.0,667.2 645.8,667.1 646.6,667.2 647.3,667.4 648.1,668.0 648.8,667.3 649.6,666.5 650.3,667.1 651.1,667.6 651.8,667.2 652.6,667.1 653.3,666.6 654.1,667.6 654.8,667.0 655.6,667.0 656.4,667.4 657.1,667.3 657.9,667.5 658.6,667.2 659.4,667.1 660.1,667.9 660.9,667.3 661.6,666.5 662.4,667.3 663.1,668.2 663.9,666.5 664.7,667.4 665.4,667.2 666.2,667.0 666.9,667.5 667.7,667.8 668.4,667.6 669.2,667.1 669.9,667.3 670.7,667.4 671.4,666.2 672.2,667.1 673.0,666.8 673.7,666.2 674.5,667.2 675.2,667.5 676.0,667.4 676.7,667.2 677.5,666.3 678.2,666.7 679.0,667.4 679.7,667.6 680.5,666.9 681.3,666.3 682.0,667.6 682.8,666.4 683.5,667.1 684.3,667.2 685.0,667.4 685.8,667.6 686.5,667.5 687.3,666.6 688.0,668.0 688.8,667.5 689.6,667.3 690.3,667.8 691.1,667.5 691.8,668.0 692.6,666.9 693.3,666.9 694.1,668.0 694.8,666.5 695.6,667.8 696.3,668.2 697.1,668.2 697.9,667.0 698.6,668.5 699.4,667.3 700.1,667.2 700.9,666.8 701.6,667.5 702.4,666.7 703.1,667.5 703.9,666.8 704.6,667.8 705.4,667.1 706.2,667.4 706.9,667.2 707.7,666.2 708.4,667.3 709.2,667.3 709.9,667.2 710.7,667.1 711.4,668.4 712.2,666.9 712.9,668.0 713.7,668.3 714.5,667.2 715.2,667.9 716.0,667.2 716.7,666.7 717.5,667.3 718.2,667.8 719.0,667.2 719.7,666.2 720.5,667.3 721.2,666.4 722.0,666.5 722.8,667.9 723.5,666.8 724.3,668.0 725.0,667.0 725.8,667.0 726.5,667.4 727.3,668.1 728.0,667.5 728.8,667.5 729.5,667.0 730.3,667.3 731.1,667.0 731.8,667.5 732.6,668.1 733.3,667.3 734.1,666.6 734.8,667.7 735.6,667.8 736.3,668.3 737.1,666.3 737.8,667.8 738.6,666.7 739.4,667.2 740.1,667.4 740.9,667.3 741.6,666.3 742.4,666.4 743.1,667.0 743.9,667.5 744.6,666.5 745.4,666.9 746.1,667.2 746.9,667.0 747.6,667.7 748.4,666.9 749.2,667.4 749.9,667.4 750.7,667.9 751.4,667.2 752.2,667.1 752.9,668.0 753.7,667.1 754.4,667.1 755.2,666.6 755.9,666.7 756.7,667.6 757.5,666.7 758.2,667.0 759.0,667.4 759.7,667.7 760.5,666.8 761.2,666.9 762.0,667.5 762.7,667.1 763.5,667.5 764.2,667.7 765.0,667.8 765.8,667.0 766.5,667.1 767.3,667.1 768.0,667.2 768.8,667.3 769.5,666.8 770.3,668.1 771.0,666.9 771.8,667.9 772.5,667.4 773.3,667.2 774.1,667.3 774.8,667.1 775.6,667.7 776.3,666.4 777.1,666.7 777.8,667.0 778.6,666.9 779.3,667.5 780.1,668.2 780.8,668.1 781.6,667.0 782.4,668.6 783.1,666.5 783.9,667.1 784.6,667.8 785.4,667.6 786.1,668.1 786.9,667.4 787.6,667.1 788.4,666.7 789.1,668.0 789.9,666.7 790.7,667.2 791.4,667.3 792.2,667.3 792.9,667.1 793.7,666.4 794.4,666.5 795.2,666.9 795.9,667.7 796.7,667.4 797.4,666.8 798.2,667.1 799.0,667.7 799.7,666.4 800.5,666.1 801.2,667.0 802.0,667.5 802.7,667.3 803.5,667.8 804.2,667.9 805.0,667.1 805.7,667.4 806.5,666.8 807.3,665.8 808.0,667.0 808.8,667.3 809.5,667.2 810.3,667.1 811.0,666.5 811.8,667.2 812.5,666.8 813.3,667.8 814.0,667.8 814.8,667.4 815.6,666.8 816.3,667.7 817.1,666.6 817.8,667.7 818.6,667.2 819.3,667.3 820.1,666.4 820.8,667.7 821.6,667.7 822.3,667.4 823.1,666.9 823.9,666.9 824.6,667.9 825.4,667.7 826.1,667.9 826.9,666.4 827.6,667.0 828.4,666.9 829.1,668.4 829.9,667.1 830.6,667.4 831.4,666.8 832.2,668.1 832.9,666.5 833.7,666.9 834.4,666.9 835.2,667.8 835.9,666.2 836.7,667.1 837.4,667.1 838.2,667.2 838.9,667.4 839.7,667.1 840.5,667.1 841.2,666.6 842.0,666.9 842.7,667.6 843.5,667.1 844.2,666.7 845.0,667.5 845.7,667.3 846.5,666.6 847.2,667.0 848.0,667.5 848.7,666.9 849.5,666.7 850.3,666.8 851.0,667.1 851.8,666.2 852.5,667.9 853.3,667.0 854.0,666.9 854.8,667.7 855.5,667.6 856.3,667.6 857.0,667.1 857.8,667.3 858.6,667.0 859.3,666.6 860.1,667.5 860.8,667.2 861.6,667.0 862.3,668.3 863.1,667.4 863.8,668.1 864.6,667.7 865.3,667.8 866.1,666.7 866.9,667.6 867.6,667.6 868.4,666.9 869.1,667.4 869.9,668.0 870.6,666.7 871.4,666.8 872.1,667.5 872.9,668.1 873.6,667.7 874.4,667.8 875.2,666.5 875.9,667.7 876.7,666.9 877.4,666.7 878.2,667.1 878.9,667.1 879.7,666.6 880.4,666.9 881.2,668.1 881.9,666.8 882.7,668.4 883.5,667.7 884.2,666.9 885.0,668.3 885.7,666.8 886.5,666.2 887.2,667.4 888.0,668.3 888.7,666.5 889.5,667.8 890.2,668.0 891.0,667.9 891.8,667.6 892.5,667.7 893.3,666.4 894.0,667.8 894.8,668.2 895.5,668.2 896.3,667.6 897.0,666.5 897.8,668.1 898.5,667.5 899.3,667.0 900.1,667.5 900.8,667.5 901.6,667.6 902.3,667.2 903.1,667.7 903.8,666.6 904.6,668.3 905.3,666.9 906.1,666.8 906.8,667.3 907.6,667.5 908.4,666.7 909.1,667.8 909.9,667.5 910.6,667.8 911.4,667.2 912.1,667.8 912.9,667.7 913.6,667.0 914.4,667.4 915.1,667.2 915.9,666.5 916.7,668.4 917.4,667.6 918.2,667.3 918.9,666.6 919.7,667.9 920.4,667.4 921.2,667.1 921.9,667.9 922.7,667.6 923.4,667.3 924.2,667.6 925.0,667.0 925.7,666.9 926.5,667.5 927.2,667.0 928.0,667.1 928.7,667.3 929.5,667.7 930.2,666.5 931.0,667.9 931.7,667.2 932.5,666.9 933.3,668.6 934.0,667.7 934.8,668.3 935.5,667.4 936.3,667.0 937.0,667.7 937.8,667.3 938.5,666.9 939.3,667.7 940.0,667.5 940.8,667.9 941.5,667.1 942.3,667.5 943.1,666.6 943.8,666.7 944.6,668.0 945.3,667.2 946.1,667.2 946.8,667.2 947.6,667.1 948.3,667.4 949.1,666.8 949.8,667.0 950.6,667.1 951.4,667.6 952.1,666.7 952.9,668.0 953.6,666.8 954.4,667.0 955.1,667.7 955.9,667.1 956.6,666.1 957.4,667.3 958.1,667.6 958.9,667.2 959.7,667.0 960.4,666.4 961.2,667.4 961.9,666.8 962.7,667.2 963.4,666.7 964.2,667.1 964.9,667.8 965.7,666.9 966.4,666.7 967.2,667.4 968.0,668.4 968.7,667.8 969.5,667.3 970.2,666.9 971.0,667.6 971.7,666.8 972.5,667.6 973.2,668.0 974.0,667.1 974.7,667.6 975.5,666.6 976.3,666.7 977.0,667.5 977.8,667.6 978.5,667.2 979.3,666.7 980.0,667.2 980.8,667.4 981.5,666.7 982.3,666.9" stroke="#FF8C00" stroke-width="4.9" fill="none" stroke-linejoin="round" />
<polyline points="605.8,644.8 606.6,644.8 607.3,645.6 608.1,644.6 608.8,644.7 609.6,644.3 610.3,644.9 611.1,644.8 611.8,644.8 612.6,644.9 613.4,644.8 614.1,644.9 614.9,644.0 615.6,644.7 616.4,644.5 617.1,644.5 617.9,645.2 618.6,645.8 619.4,645.3 620.1,644.9 620.9,644.8 621.7,645.5 622.4,644.5 623.2,645.0 623.9,644.4 624.7,645.3 625.4,646.4 626.2,644.6 626.9,644.7 627.7,643.8 628.4,644.9 629.2,644.8 630.0,644.1 630.7,646.4 631.5,645.8 632.2,646.0 633.0,644.9 633.7,645.2 634.5,644.8 635.2,645.9 636.0,645.5 636.7,645.2 637.5,645.3 638.3,645.3 639.0,644.7 639.8,645.6 640.5,645.5 641.3,645.5 642.0,645.0 642.8,645.8 643.5,645.9 644.3,645.8 645.0,646.2 645.8,645.5 646.6,645.7 647.3,646.5 648.1,645.7 648.8,645.4 649.6,644.7 650.3,645.5 651.1,644.8 651.8,645.4 652.6,644.8 653.3,646.2 654.1,646.3 654.8,645.7 655.6,645.8 656.4,645.6 657.1,645.4 657.9,646.2 658.6,645.5 659.4,646.0 660.1,644.7 660.9,645.8 661.6,645.9 662.4,644.8 663.1,646.6 663.9,644.9 664.7,645.6 665.4,646.0 666.2,646.0 666.9,645.8 667.7,645.6 668.4,646.2 669.2,645.6 669.9,645.5 670.7,645.9 671.4,645.1 672.2,646.4 673.0,645.9 673.7,645.4 674.5,645.7 675.2,645.2 676.0,645.5 676.7,646.5 677.5,645.3 678.2,646.3 679.0,645.4 679.7,646.0 680.5,645.5 681.3,647.3 682.0,645.7 682.8,646.2 683.5,645.3 684.3,645.3 685.0,645.4 685.8,646.2 686.5,646.1 687.3,646.6 688.0,646.2 688.8,646.1 689.6,645.9 690.3,645.5 691.1,646.7 691.8,646.2 692.6,645.9 693.3,646.4 694.1,647.2 694.8,646.6 695.6,646.6 696.3,647.0 697.1,646.3 697.9,646.6 698.6,646.5 699.4,646.4 700.1,646.5 700.9,646.2 701.6,646.2 702.4,646.4 703.1,646.3 703.9,646.2 704.6,646.7 705.4,646.0 706.2,645.9 706.9,646.7 707.7,645.9 708.4,646.3 709.2,646.4 709.9,645.7 710.7,647.3 711.4,646.2 712.2,647.0 712.9,646.6 713.7,647.9 714.5,646.3 715.2,646.2 716.0,647.3 716.7,646.0 717.5,647.1 718.2,646.9 719.0,647.4 719.7,646.7 720.5,647.1 721.2,647.0 722.0,646.9 722.8,647.6 723.5,646.8 724.3,647.2 725.0,646.4 725.8,647.1 726.5,646.8 727.3,646.9 728.0,646.5 728.8,646.4 729.5,647.1 730.3,647.7 731.1,647.2 731.8,647.4 732.6,646.9 733.3,647.4 734.1,647.1 734.8,647.2 735.6,647.2 736.3,647.8 737.1,646.8 737.8,647.6 738.6,648.2 739.4,647.8 740.1,647.6 740.9,647.6 741.6,647.2 742.4,647.7 743.1,647.4 743.9,647.0 744.6,647.9 745.4,647.8 746.1,646.8 746.9,647.3 747.6,647.1 748.4,647.6 749.2,647.6 749.9,647.6 750.7,648.0 751.4,647.0 752.2,648.2 752.9,648.0 753.7,648.2 754.4,646.7 755.2,648.1 755.9,647.1 756.7,648.4 757.5,646.7 758.2,646.4 759.0,647.7 759.7,646.9 760.5,648.3 761.2,647.9 762.0,647.0 762.7,647.6 763.5,647.9 764.2,647.6 765.0,648.0 765.8,648.0 766.5,647.2 767.3,648.7 768.0,648.0 768.8,647.7 769.5,647.2 770.3,647.6 771.0,647.9 771.8,648.8 772.5,646.2 773.3,648.1 774.1,647.3 774.8,648.3 775.6,647.2 776.3,648.4 777.1,648.0 777.8,647.6 778.6,648.3 779.3,647.3 780.1,647.6 780.8,647.1 781.6,647.2 782.4,647.9 783.1,648.3 783.9,647.8 784.6,647.1 785.4,648.5 786.1,647.1 786.9,648.5 787.6,647.4 788.4,647.4 789.1,648.1 789.9,648.4 790.7,647.7 791.4,647.4 792.2,648.3 792.9,647.4 793.7,647.5 794.4,648.3 795.2,648.6 795.9,647.7 796.7,647.8 797.4,648.4 798.2,648.1 799.0,646.6 799.7,647.3 800.5,647.4 801.2,648.1 802.0,647.7 802.7,647.1 803.5,648.1 804.2,648.0 805.0,647.9 805.7,647.9 806.5,647.4 807.3,648.0 808.0,647.6 808.8,647.5 809.5,647.5 810.3,647.5 811.0,648.4 811.8,648.3 812.5,648.6 813.3,647.6 814.0,647.4 814.8,647.4 815.6,646.9 816.3,647.8 817.1,647.1 817.8,647.5 818.6,647.2 819.3,648.0 820.1,647.7 820.8,648.1 821.6,648.2 822.3,648.7 823.1,647.1 823.9,647.4 824.6,646.1 825.4,647.6 826.1,647.4 826.9,648.2 827.6,647.0 828.4,648.0 829.1,646.5 829.9,646.4 830.6,648.6 831.4,648.0 832.2,648.3 832.9,648.0 833.7,648.3 834.4,647.4 835.2,646.9 835.9,647.6 836.7,646.9 837.4,647.4 838.2,647.0 838.9,646.8 839.7,648.0 840.5,646.7 841.2,648.1 842.0,648.1 842.7,647.2 843.5,648.1 844.2,648.2 845.0,647.2 845.7,647.8 846.5,647.9 847.2,648.0 848.0,648.1 848.7,647.5 849.5,647.7 850.3,648.0 851.0,646.5 851.8,647.3 852.5,648.3 853.3,647.5 854.0,648.0 854.8,647.9 855.5,646.6 856.3,646.9 857.0,647.5 857.8,647.0 858.6,648.4 859.3,647.2 860.1,647.2 860.8,648.0 861.6,648.5 862.3,647.3 863.1,647.5 863.8,647.7 864.6,647.6 865.3,647.6 866.1,647.2 866.9,646.9 867.6,647.9 868.4,647.0 869.1,647.9 869.9,648.0 870.6,647.8 871.4,647.3 872.1,647.4 872.9,647.6 873.6,648.2 874.4,647.1 875.2,647.8 875.9,647.7 876.7,648.1 877.4,646.7 878.2,647.9 878.9,648.3 879.7,647.2 880.4,647.7 881.2,647.2 881.9,647.2 882.7,648.5 883.5,647.8 884.2,646.4 885.0,647.4 885.7,647.4 886.5,647.1 887.2,647.0 888.0,647.6 888.7,647.2 889.5,647.2 890.2,647.5 891.0,647.6 891.8,647.2 892.5,647.4 893.3,648.1 894.0,648.3 894.8,647.6 895.5,647.7 896.3,646.9 897.0,647.6 897.8,647.6 898.5,647.8 899.3,647.5 900.1,647.4 900.8,647.1 901.6,647.9 902.3,647.4 903.1,647.2 903.8,648.5 904.6,647.5 905.3,648.1 906.1,647.9 906.8,647.8 907.6,647.8 908.4,648.1 909.1,647.5 909.9,647.4 910.6,647.8 911.4,648.2 912.1,647.9 912.9,646.8 913.6,647.3 914.4,647.9 915.1,648.2 915.9,647.5 916.7,647.5 917.4,646.5 918.2,648.4 918.9,647.4 919.7,647.1 920.4,647.1 921.2,648.4 921.9,647.4 922.7,647.6 923.4,647.5 924.2,647.4 925.0,648.0 925.7,647.4 926.5,648.1 927.2,648.4 928.0,647.9 928.7,647.5 929.5,646.8 930.2,647.8 931.0,646.9 931.7,648.1 932.5,648.0 933.3,648.4 934.0,647.7 934.8,647.7 935.5,647.2 936.3,647.9 937.0,647.6 937.8,648.3 938.5,647.8 939.3,646.8 940.0,648.2 940.8,647.7 941.5,647.2 942.3,647.3 943.1,647.8 943.8,647.9 944.6,648.3 945.3,647.0 946.1,648.5 946.8,647.9 947.6,648.3 948.3,648.0 949.1,648.4 949.8,647.7 950.6,647.3 951.4,648.0 952.1,647.7 952.9,647.6 953.6,647.9 954.4,646.8 955.1,648.2 955.9,648.0 956.6,647.2 957.4,647.6 958.1,647.8 958.9,647.1 959.7,648.8 960.4,647.5 961.2,647.0 961.9,648.3 962.7,646.2 963.4,647.5 964.2,647.4 964.9,647.4 965.7,647.6 966.4,646.5 967.2,648.3 968.0,648.1 968.7,647.3 969.5,647.3 970.2,648.2 971.0,647.1 971.7,648.3 972.5,648.0 973.2,647.9 974.0,647.6 974.7,647.7 975.5,647.5 976.3,647.3 977.0,647.3 977.8,648.1 978.5,647.9 979.3,646.9 980.0,647.3 980.8,647.3 981.5,648.2 982.3,649.4" stroke="#FFB00C" stroke-width="4.9" fill="none" stroke-linejoin="round" />
<polyline points="605.8,613.2 606.6,612.2 607.3,614.5 608.1,613.3 608.8,613.4 609.6,614.6 610.3,612.8 611.1,613.4 611.8,613.9 612.6,613.2 613.4,613.6 614.1,613.0 614.9,612.6 615.6,613.7 616.4,613.2 617.1,612.6 617.9,614.2 618.6,613.5 619.4,614.1 620.1,613.2 620.9,614.1 621.7,613.4 622.4,613.8 623.2,613.4 623.9,613.8 624.7,614.7 625.4,614.5 626.2,613.0 626.9,613.0 627.7,613.8 628.4,613.5 629.2,614.2 630.0,614.2 630.7,614.5 631.5,613.9 632.2,612.8 633.0,614.3 633.7,613.2 634.5,613.4 635.2,613.4 636.0,614.6 636.7,614.3 637.5,613.2 638.3,614.7 639.0,613.8 639.8,613.9 640.5,613.8 641.3,613.3 642.0,614.0 642.8,613.2 643.5,613.3 644.3,614.7 645.0,613.8 645.8,614.0 646.6,613.8 647.3,614.2 648.1,613.9 648.8,613.1 649.6,613.8 650.3,614.4 651.1,613.8 651.8,613.5 652.6,614.7 653.3,614.1 654.1,614.1 654.8,613.5 655.6,614.0 656.4,614.0 657.1,613.6 657.9,613.5 658.6,614.1 659.4,612.8 660.1,613.6 660.9,613.4 661.6,614.0 662.4,614.1 663.1,614.5 663.9,615.1 664.7,613.3 665.4,614.0 666.2,614.5 666.9,614.1 667.7,613.5 668.4,613.9 669.2,613.4 669.9,614.8 670.7,614.0 671.4,614.1 672.2,613.3 673.0,613.7 673.7,613.6 674.5,613.3 675.2,613.7 676.0,614.8 676.7,613.3 677.5,613.7 678.2,614.1 679.0,613.8 679.7,613.2 680.5,613.6 681.3,614.1 682.0,613.8 682.8,614.5 683.5,613.8 684.3,614.1 685.0,613.9 685.8,615.0 686.5,614.9 687.3,612.7 688.0,614.2 688.8,614.2 689.6,613.8 690.3,614.3 691.1,614.0 691.8,615.1 692.6,614.2 693.3,614.2 694.1,615.1 694.8,614.9 695.6,613.7 696.3,614.6 697.1,614.6 697.9,614.0 698.6,614.4 699.4,615.3 700.1,614.4 700.9,614.4 701.6,614.4 702.4,613.6 703.1,614.0 703.9,614.7 704.6,612.9 705.4,614.3 706.2,615.1 706.9,614.6 707.7,614.9 708.4,614.8 709.2,614.3 709.9,614.8 710.7,613.8 711.4,614.2 712.2,614.6 712.9,614.5 713.7,614.4 714.5,614.4 715.2,614.8 716.0,614.0 716.7,615.3 717.5,614.3 718.2,614.2 719.0,614.2 719.7,613.9 720.5,614.8 721.2,614.0 722.0,615.4 722.8,614.9 723.5,615.1 724.3,614.1 725.0,615.6 725.8,614.0 726.5,614.5 727.3,614.8 728.0,615.2 728.8,614.6 729.5,613.3 730.3,615.7 731.1,614.8 731.8,614.3 732.6,614.3 733.3,614.4 734.1,614.8 734.8,614.6 735.6,615.1 736.3,614.1 737.1,614.9 737.8,614.9 738.6,614.2 739.4,614.7 740.1,614.1 740.9,614.9 741.6,615.0 742.4,614.8 743.1,614.8 743.9,614.9 744.6,614.5 745.4,614.5 746.1,614.7 746.9,614.3 747.6,614.4 748.4,614.2 749.2,614.8 749.9,614.9 750.7,614.7 751.4,613.7 752.2,613.9 752.9,614.6 753.7,615.1 754.4,614.3 755.2,614.0 755.9,613.8 756.7,614.4 757.5,615.3 758.2,615.3 759.0,615.0 759.7,614.1 760.5,615.0 761.2,614.5 762.0,615.5 762.7,614.3 763.5,614.5 764.2,615.1 765.0,614.9 765.8,615.0 766.5,614.7 767.3,615.0 768.0,615.2 768.8,615.0 769.5,615.2 770.3,614.6 771.0,615.0 771.8,615.3 772.5,615.3 773.3,615.1 774.1,614.9 774.8,615.0 775.6,615.4 776.3,615.1 777.1,614.9 777.8,614.5 778.6,614.3 779.3,614.8 780.1,614.3 780.8,614.1 781.6,614.6 782.4,613.9 783.1,615.7 783.9,614.8 784.6,615.1 785.4,615.2 786.1,615.4 786.9,615.4 787.6,614.9 788.4,615.4 789.1,615.0 789.9,615.5 790.7,613.8 791.4,614.9 792.2,615.5 792.9,615.9 793.7,616.3 794.4,615.5 795.2,614.6 795.9,615.4 796.7,615.4 797.4,614.6 798.2,615.2 799.0,615.0 799.7,615.2 800.5,614.8 801.2,615.1 802.0,615.5 802.7,615.4 803.5,614.6 804.2,614.8 805.0,614.8 805.7,614.3 806.5,615.4 807.3,614.7 808.0,616.1 808.8,615.0 809.5,615.4 810.3,615.2 811.0,615.4 811.8,614.2 812.5,615.2 813.3,614.6 814.0,615.4 814.8,615.1 815.6,615.3 816.3,615.6 817.1,615.3 817.8,614.9 818.6,614.4 819.3,615.2 820.1,615.9 820.8,614.6 821.6,615.5 822.3,614.9 823.1,615.8 823.9,615.2 824.6,615.0 825.4,615.2 826.1,614.8 826.9,615.7 827.6,614.6 828.4,616.0 829.1,614.5 829.9,614.7 830.6,615.0 831.4,616.1 832.2,615.0 832.9,615.6 833.7,615.6 834.4,615.3 835.2,614.5 835.9,615.5 836.7,616.2 837.4,615.9 838.2,615.1 838.9,615.8 839.7,615.6 840.5,614.5 841.2,615.5 842.0,615.6 842.7,616.1 843.5,616.2 844.2,616.0 845.0,615.4 845.7,614.6 846.5,615.9 847.2,615.4 848.0,615.2 848.7,616.2 849.5,615.7 850.3,616.0 851.0,615.5 851.8,615.9 852.5,615.9 853.3,616.6 854.0,615.6 854.8,615.5 855.5,615.2 856.3,615.7 857.0,614.7 857.8,616.4 858.6,615.9 859.3,616.3 860.1,615.3 860.8,614.8 861.6,615.5 862.3,615.0 863.1,615.1 863.8,616.2 864.6,615.9 865.3,615.8 866.1,615.9 866.9,616.4 867.6,616.3 868.4,614.6 869.1,614.8 869.9,615.7 870.6,615.6 871.4,617.0 872.1,616.5 872.9,616.5 873.6,616.0 874.4,615.6 875.2,615.1 875.9,616.2 876.7,615.9 877.4,616.5 878.2,616.0 878.9,616.6 879.7,615.3 880.4,615.6 881.2,615.9 881.9,616.1 882.7,615.7 883.5,615.9 884.2,616.3 885.0,616.2 885.7,615.5 886.5,616.1 887.2,616.7 888.0,615.6 888.7,614.9 889.5,615.7 890.2,616.4 891.0,616.1 891.8,615.5 892.5,615.5 893.3,615.7 894.0,615.8 894.8,615.6 895.5,615.7 896.3,616.4 897.0,617.0 897.8,615.9 898.5,615.7 899.3,615.2 900.1,616.3 900.8,616.2 901.6,616.6 902.3,616.5 903.1,615.5 903.8,614.6 904.6,615.9 905.3,615.7 906.1,615.4 906.8,616.3 907.6,615.8 908.4,615.3 909.1,616.7 909.9,615.4 910.6,615.2 911.4,615.3 912.1,615.4 912.9,616.3 913.6,615.6 914.4,617.2 915.1,616.7 915.9,615.8 916.7,616.0 917.4,615.9 918.2,616.0 918.9,615.9 919.7,616.7 920.4,615.3 921.2,616.1 921.9,616.4 922.7,616.0 923.4,616.3 924.2,615.9 925.0,616.6 925.7,616.6 926.5,617.1 927.2,616.8 928.0,616.5 928.7,616.5 929.5,615.2 930.2,616.0 931.0,616.3 931.7,615.8 932.5,615.5 933.3,615.9 934.0,616.8 934.8,616.6 935.5,615.8 936.3,617.1 937.0,616.7 937.8,617.0 938.5,616.6 939.3,616.9 940.0,616.6 940.8,616.1 941.5,617.1 942.3,615.0 943.1,616.1 943.8,616.5 944.6,615.7 945.3,616.1 946.1,616.1 946.8,616.2 947.6,616.3 948.3,616.5 949.1,616.4 949.8,616.1 950.6,616.2 951.4,616.0 952.1,616.4 952.9,616.0 953.6,615.9 954.4,616.5 955.1,616.8 955.9,615.7 956.6,616.5 957.4,616.2 958.1,616.5 958.9,617.0 959.7,617.0 960.4,616.4 961.2,616.8 961.9,616.8 962.7,616.6 963.4,615.6 964.2,616.0 964.9,616.0 965.7,616.4 966.4,617.4 967.2,616.1 968.0,615.3 968.7,616.2 969.5,615.8 970.2,617.2 971.0,616.3 971.7,616.3 972.5,616.0 973.2,616.6 974.0,616.2 974.7,617.3 975.5,616.9 976.3,616.8 977.0,616.4 977.8,616.3 978.5,617.3 979.3,616.4 980.0,615.6 980.8,616.5 981.5,615.8 982.3,615.9" stroke="#FFD700" stroke-width="4.9" fill="none" stroke-linejoin="round" />
</g>
<text transform="translate(531,669) rotate(-90)" font-size="24.2" text-anchor="middle" fill="#262626" stroke="#262626" stroke-width="0.35" font-family='"Liberation Sans", sans-serif'><tspan>I</tspan><tspan dy="11.5" font-size="19.36">DS</tspan><tspan dy="-11.5"> (A.</tspan><tspan dx="1.5" font-size="22.26" font-family='"DejaVu Sans", sans-serif' font-style="italic">μ</tspan><tspan dx="1.2">m</tspan><tspan dy="-12.3" font-size="19.36">-1</tspan><tspan dy="12.3">)</tspan></text>
<text x="793" y="885.5" font-size="24.2" text-anchor="middle" fill="#262626" stroke="#262626" stroke-width="0.35" font-family='"Liberation Sans", sans-serif'>Time (s)</text>
<text x="641" y="561.3" font-size="26.1" text-anchor="start" fill="#FF4500" stroke="#FF4500" stroke-width="0.35" font-family='"Liberation Sans", sans-serif'>State 1</text>
<text x="641" y="593.3" font-size="26.1" text-anchor="start" fill="#FF6F12" stroke="#FF6F12" stroke-width="0.35" font-family='"Liberation Sans", sans-serif'>State 2</text>
<text x="760" y="561.3" font-size="26.1" text-anchor="start" fill="#FF8C00" stroke="#FF8C00" stroke-width="0.35" font-family='"Liberation Sans", sans-serif'>State 3</text>
<text x="760" y="593.3" font-size="26.1" text-anchor="start" fill="#FFB00C" stroke="#FFB00C" stroke-width="0.35" font-family='"Liberation Sans", sans-serif'>State 4</text>
<text x="880" y="561.3" font-size="26.1" text-anchor="start" fill="#FFD700" stroke="#FFD700" stroke-width="0.35" font-family='"Liberation Sans", sans-serif'>State 5</text>
<clipPath id="cg"><rect x="1112.8" y="512.5" width="371.5" height="304.5"/></clipPath>
<rect x="1114.3" y="514" width="368.5" height="301.5" fill="none" stroke="#262626" stroke-width="2"/>
<text x="1106.3" y="826.9" font-size="21.6" text-anchor="end" fill="#262626" stroke="#262626" stroke-width="0.35" font-family='"Liberation Sans", sans-serif'><tspan>10</tspan><tspan dy="-9.6" font-size="17.06">-14</tspan></text>
<text x="1106.3" y="751.52" font-size="21.6" text-anchor="end" fill="#262626" stroke="#262626" stroke-width="0.35" font-family='"Liberation Sans", sans-serif'><tspan>10</tspan><tspan dy="-9.6" font-size="17.06">-12</tspan></text>
<text x="1106.3" y="676.15" font-size="21.6" text-anchor="end" fill="#262626" stroke="#262626" stroke-width="0.35" font-family='"Liberation Sans", sans-serif'><tspan>10</tspan><tspan dy="-9.6" font-size="17.06">-10</tspan></text>
<text x="1106.3" y="600.77" font-size="21.6" text-anchor="end" fill="#262626" stroke="#262626" stroke-width="0.35" font-family='"Liberation Sans", sans-serif'><tspan>10</tspan><tspan dy="-9.6" font-size="17.06">-8</tspan></text>
<text x="1106.3" y="525.4" font-size="21.6" text-anchor="end" fill="#262626" stroke="#262626" stroke-width="0.35" font-family='"Liberation Sans", sans-serif'><tspan>10</tspan><tspan dy="-9.6" font-size="17.06">-6</tspan></text>
<path d="M1114.3 740.12h11.87M1482.8 740.12h-11.87M1114.3 664.75h11.87M1482.8 664.75h-11.87M1114.3 589.38h11.87M1482.8 589.38h-11.87" stroke="#262626" stroke-width="2" fill="none"/>
<path d="M1114.3 804.15h5.93M1482.8 804.15h-5.93M1114.3 797.52h5.93M1482.8 797.52h-5.93M1114.3 792.81h5.93M1482.8 792.81h-5.93M1114.3 789.16h5.93M1482.8 789.16h-5.93M1114.3 786.17h5.93M1482.8 786.17h-5.93M1114.3 783.65h5.93M1482.8 783.65h-5.93M1114.3 781.46h5.93M1482.8 781.46h-5.93M1114.3 779.54h5.93M1482.8 779.54h-5.93M1114.3 777.81h5.93M1482.8 777.81h-5.93M1114.3 766.47h5.93M1482.8 766.47h-5.93M1114.3 759.83h5.93M1482.8 759.83h-5.93M1114.3 755.12h5.93M1482.8 755.12h-5.93M1114.3 751.47h5.93M1482.8 751.47h-5.93M1114.3 748.49h5.93M1482.8 748.49h-5.93M1114.3 745.96h5.93M1482.8 745.96h-5.93M1114.3 743.78h5.93M1482.8 743.78h-5.93M1114.3 741.85h5.93M1482.8 741.85h-5.93M1114.3 728.78h5.93M1482.8 728.78h-5.93M1114.3 722.14h5.93M1482.8 722.14h-5.93M1114.3 717.43h5.93M1482.8 717.43h-5.93M1114.3 713.78h5.93M1482.8 713.78h-5.93M1114.3 710.8h5.93M1482.8 710.8h-5.93M1114.3 708.28h5.93M1482.8 708.28h-5.93M1114.3 706.09h5.93M1482.8 706.09h-5.93M1114.3 704.16h5.93M1482.8 704.16h-5.93M1114.3 702.44h5.93M1482.8 702.44h-5.93M1114.3 691.09h5.93M1482.8 691.09h-5.93M1114.3 684.46h5.93M1482.8 684.46h-5.93M1114.3 679.75h5.93M1482.8 679.75h-5.93M1114.3 676.1h5.93M1482.8 676.1h-5.93M1114.3 673.11h5.93M1482.8 673.11h-5.93M1114.3 670.59h5.93M1482.8 670.59h-5.93M1114.3 668.4h5.93M1482.8 668.4h-5.93M1114.3 666.47h5.93M1482.8 666.47h-5.93M1114.3 653.4h5.93M1482.8 653.4h-5.93M1114.3 646.77h5.93M1482.8 646.77h-5.93M1114.3 642.06h5.93M1482.8 642.06h-5.93M1114.3 638.41h5.93M1482.8 638.41h-5.93M1114.3 635.42h5.93M1482.8 635.42h-5.93M1114.3 632.9h5.93M1482.8 632.9h-5.93M1114.3 630.71h5.93M1482.8 630.71h-5.93M1114.3 628.79h5.93M1482.8 628.79h-5.93M1114.3 627.06h5.93M1482.8 627.06h-5.93M1114.3 615.72h5.93M1482.8 615.72h-5.93M1114.3 609.08h5.93M1482.8 609.08h-5.93M1114.3 604.37h5.93M1482.8 604.37h-5.93M1114.3 600.72h5.93M1482.8 600.72h-5.93M1114.3 597.74h5.93M1482.8 597.74h-5.93M1114.3 595.21h5.93M1482.8 595.21h-5.93M1114.3 593.03h5.93M1482.8 593.03h-5.93M1114.3 591.1h5.93M1482.8 591.1h-5.93M1114.3 578.03h5.93M1482.8 578.03h-5.93M1114.3 571.39h5.93M1482.8 571.39h-5.93M1114.3 566.68h5.93M1482.8 566.68h-5.93M1114.3 563.03h5.93M1482.8 563.03h-5.93M1114.3 560.05h5.93M1482.8 560.05h-5.93M1114.3 557.53h5.93M1482.8 557.53h-5.93M1114.3 555.34h5.93M1482.8 555.34h-5.93M1114.3 553.41h5.93M1482.8 553.41h-5.93M1114.3 551.69h5.93M1482.8 551.69h-5.93M1114.3 540.34h5.93M1482.8 540.34h-5.93M1114.3 533.71h5.93M1482.8 533.71h-5.93M1114.3 529h5.93M1482.8 529h-5.93M1114.3 525.35h5.93M1482.8 525.35h-5.93M1114.3 522.36h5.93M1482.8 522.36h-5.93M1114.3 519.84h5.93M1482.8 519.84h-5.93M1114.3 517.65h5.93M1482.8 517.65h-5.93M1114.3 515.72h5.93M1482.8 515.72h-5.93" stroke="#262626" stroke-width="1.8" fill="none"/>
<text x="1156.82" y="844.9" font-size="21.6" text-anchor="middle" fill="#262626" stroke="#262626" stroke-width="0.35" font-family='"Liberation Sans", sans-serif'>-10</text>
<text x="1227.68" y="844.9" font-size="21.6" text-anchor="middle" fill="#262626" stroke="#262626" stroke-width="0.35" font-family='"Liberation Sans", sans-serif'>-5</text>
<text x="1298.55" y="844.9" font-size="21.6" text-anchor="middle" fill="#262626" stroke="#262626" stroke-width="0.35" font-family='"Liberation Sans", sans-serif'>0</text>
<text x="1369.42" y="844.9" font-size="21.6" text-anchor="middle" fill="#262626" stroke="#262626" stroke-width="0.35" font-family='"Liberation Sans", sans-serif'>5</text>
<text x="1440.28" y="844.9" font-size="21.6" text-anchor="middle" fill="#262626" stroke="#262626" stroke-width="0.35" font-family='"Liberation Sans", sans-serif'>10</text>
<path d="M1156.82 815.5v-11.87M1156.82 514v11.87M1227.68 815.5v-11.87M1227.68 514v11.87M1298.55 815.5v-11.87M1298.55 514v11.87M1369.42 815.5v-11.87M1369.42 514v11.87M1440.28 815.5v-11.87M1440.28 514v11.87" stroke="#262626" stroke-width="2" fill="none"/>
<g clip-path="url(#cg)">
<polygon points="1111.1,673.9 1112.6,683.2 1125.2,710.2 1138.5,735.3 1142.2,764.2 1143.7,789.4 1145.9,818.2 1200.6,818.2 1201.4,797.9 1207.7,764.2 1211.0,751.6 1187.3,739.8 1184.0,753.8 1181.4,759.0 1178.8,762.3 1176.6,753.1 1174.0,755.3 1170.7,760.9 1167.3,757.2 1164.0,755.7 1159.9,758.3 1155.5,753.8 1152.9,748.7 1150.3,745.7 1147.7,741.3 1145.5,736.8 1139.6,722.0 1133.7,710.2 1125.9,694.3 1118.5,679.8 1116.3,673.9" fill="#A52A2A" stroke="#A52A2A" stroke-width="2.5" stroke-linejoin="round"/>
<polyline points="1147.4,789.5 1150.7,802.3 1154.0,793.6 1157.4,789.2 1160.7,780.4 1164.0,796.9 1167.3,781.4 1170.7,816.6 1174.0,822.6 1177.3,777.6 1180.7,808.4 1184.0,788.1 1187.3,791.0 1190.7,819.4 1194.0,758.3 1197.3,759.1" stroke="#A52A2A" stroke-width="3.2" fill="none" stroke-linejoin="round"/>
<polyline points="1147.4,779.9 1151.1,802.7 1154.8,755.3 1158.5,772.1 1162.2,762.3 1165.9,759.4 1169.6,764.7 1173.3,775.0 1177.0,778.5 1180.7,788.8 1184.4,780.1 1188.1,800.0 1191.8,765.8 1195.5,815.5 1199.2,756.3" stroke="#A52A2A" stroke-width="3.2" fill="none" stroke-linejoin="round"/>
<polyline points="1147.4,781.3 1151.4,756.2 1155.5,789.6 1159.6,781.2 1163.6,780.2 1167.7,773.9 1171.8,765.8 1175.9,794.9 1179.9,771.9 1184.0,769.7 1188.1,795.0 1192.1,788.1 1196.2,761.7 1200.3,786.9" stroke="#A52A2A" stroke-width="3.2" fill="none" stroke-linejoin="round"/>
<polyline points="1147.4,789.7 1150.7,801.8 1154.0,771.3 1157.4,786.7 1160.7,816.7 1164.0,817.0 1167.3,761.1 1170.7,766.0 1174.0,757.3 1177.3,781.6 1180.7,756.4 1184.0,782.8 1187.3,797.2 1190.7,770.5 1194.0,799.3 1197.3,792.7" stroke="#A52A2A" stroke-width="3.2" fill="none" stroke-linejoin="round"/>
<polyline points="1147.4,822.9 1151.1,789.4 1154.8,823.3 1158.5,802.3 1162.2,801.0 1165.9,766.5 1169.6,823.6 1173.3,755.5 1177.0,768.8 1180.7,781.2 1184.4,807.4 1188.1,765.4 1191.8,814.2 1195.5,824.2 1199.2,763.3" stroke="#A52A2A" stroke-width="3.2" fill="none" stroke-linejoin="round"/>
<polyline points="1151.8,748.7 1154.0,740.5 1156.2,755.3" stroke="#A52A2A" stroke-width="3.2" fill="none" stroke-linejoin="round"/>
<polyline points="1174.0,759.0 1176.6,747.2 1179.2,760.9" stroke="#A52A2A" stroke-width="3.2" fill="none" stroke-linejoin="round"/>
<polyline points="1155.5,810.1 1156.2,813.8" stroke="#fff" stroke-width="0.9" fill="none" stroke-linejoin="round"/>
<polyline points="1165.9,812.7 1166.6,815.6" stroke="#fff" stroke-width="0.9" fill="none" stroke-linejoin="round"/>
<polyline points="1175.9,811.6 1176.6,814.9" stroke="#fff" stroke-width="0.9" fill="none" stroke-linejoin="round"/>
<polyline points="1185.8,813.0 1186.6,815.6" stroke="#fff" stroke-width="0.9" fill="none" stroke-linejoin="round"/>
<polyline points="1170.3,803.4 1171.0,805.6" stroke="#fff" stroke-width="0.9" fill="none" stroke-linejoin="round"/>
<polyline points="1192.5,809.0 1193.2,811.9" stroke="#fff" stroke-width="0.9" fill="none" stroke-linejoin="round"/>
<polygon points="1183.3,759.0 1184.9,751.9 1186.3,746.2 1187.9,739.8 1189.5,733.4 1191.2,727.0 1193.1,720.7 1195.3,714.5 1197.6,708.3 1200.0,702.2 1202.6,696.1 1205.2,690.0 1207.8,684.0 1210.5,678.0 1213.3,672.0 1216.1,666.0 1218.9,660.1 1221.9,654.2 1225.0,648.3 1228.1,642.5 1231.3,636.8 1234.7,631.1 1238.2,625.5 1241.8,620.0 1245.6,614.6 1249.5,609.3 1253.7,604.2 1258.1,599.3 1262.7,594.6 1267.6,590.2 1272.7,586.1 1278.1,582.3 1283.7,578.8 1289.4,575.5 1295.2,572.5 1301.2,569.7 1307.3,567.2 1313.5,564.9 1319.1,563.1 1326.1,561.1 1326.5,573.6 1320.3,576.3 1315.5,578.5 1310.1,581.1 1304.9,584.0 1299.8,587.1 1294.9,590.5 1290.1,594.1 1285.6,598.0 1281.2,602.1 1277.1,606.4 1273.1,610.9 1269.4,615.5 1265.8,620.3 1262.4,625.3 1259.1,630.3 1256.0,635.3 1252.9,640.5 1249.9,645.6 1246.9,650.8 1244.0,656.1 1241.1,661.3 1238.4,666.7 1235.9,672.1 1233.4,677.5 1231.0,683.0 1228.7,688.5 1226.5,694.1 1224.3,699.7 1222.1,705.3 1220.0,710.8 1217.9,716.4 1215.9,722.1 1214.2,727.8 1212.6,733.6 1211.1,739.4 1209.6,745.2 1208.3,751.0 1207.2,756.2 1205.8,762.7" fill="#A52A2A" stroke="#A52A2A" stroke-width="2.5" stroke-linejoin="round"/>
<polyline points="1215.4,818.2 1215.6,812.1 1215.7,807.2 1215.9,801.7 1216.2,796.2 1216.4,790.7 1216.7,785.2 1217.0,779.7 1217.4,774.2 1217.8,768.7 1218.3,763.2 1219.0,757.8 1219.8,752.3 1220.9,747.0 1222.3,741.6 1223.8,736.3 1225.3,731.0 1227.0,725.7 1228.7,720.5 1230.4,715.3 1232.2,710.1 1234.1,704.9 1236.0,699.7 1237.9,694.6 1240.0,689.4 1242.0,684.3 1244.2,679.3 1246.4,674.2 1248.7,669.2 1251.1,664.2 1253.5,659.3 1256.0,654.4 1258.6,649.5 1261.2,644.7 1263.9,639.9 1266.7,635.2 1269.8,630.6 1273.0,626.1 1276.4,621.8 1280.1,617.7 1283.8,613.7 1287.8,609.8 1291.9,606.2 1296.3,603.0 1301.0,600.0 1305.8,597.3 1310.7,594.9 1315.7,592.7 1320.3,590.9 1326.1,588.8" stroke="#A52A2A" stroke-width="5.0" fill="none" stroke-linejoin="round"/>
<polyline points="1222.1,818.2 1222.4,812.3 1222.7,807.6 1223.1,802.3 1223.4,797.0 1223.8,791.7 1224.1,786.4 1224.5,781.1 1224.9,775.8 1225.3,770.5 1225.7,765.2 1226.1,759.9 1226.5,754.6 1227.0,749.3 1227.7,744.1 1228.6,738.9 1229.9,733.8 1231.5,728.7 1233.3,723.7 1235.2,718.8 1237.2,713.8 1239.2,708.9 1241.1,704.0 1243.1,699.0 1245.1,694.1 1247.1,689.2 1249.1,684.3 1251.3,679.4 1253.4,674.6 1255.7,669.8 1258.1,665.1 1260.6,660.4 1263.2,655.7 1265.9,651.1 1268.7,646.6 1271.5,642.1 1274.5,637.7 1277.6,633.5 1280.9,629.3 1284.3,625.2 1287.8,621.2 1291.5,617.4 1295.3,613.7 1299.3,610.2 1303.4,606.8 1307.6,603.6 1312.0,600.6 1316.6,598.0 1320.7,595.8 1326.1,593.2" stroke="#A52A2A" stroke-width="5.0" fill="none" stroke-linejoin="round"/>
<polyline points="1240.6,757.2 1241.9,753.3 1242.9,750.1 1244.1,746.6 1245.2,743.1 1246.4,739.6 1247.6,736.1 1248.9,732.6 1250.1,729.1 1251.3,725.6 1252.6,722.1 1253.9,718.6 1255.2,715.2 1256.5,711.7 1257.9,708.3 1259.3,704.8 1260.6,701.4 1262.0,698.0 1263.5,694.5 1264.9,691.1 1266.4,687.7 1267.9,684.3 1269.4,680.9 1270.9,677.6 1272.4,674.2 1274.0,670.8 1275.6,667.5 1277.2,664.2 1278.9,660.8 1280.6,657.5 1282.2,654.2 1283.9,650.9 1285.7,647.7 1287.4,644.4 1289.2,641.1 1291.0,637.9 1292.9,634.7 1294.9,631.6 1297.0,628.6 1299.1,625.5 1301.4,622.6 1303.7,619.7 1306.1,616.9 1308.6,614.2 1311.2,611.5 1313.9,609.0 1316.7,606.6 1319.7,604.4 1322.5,602.6 1326.1,600.6" stroke="#A52A2A" stroke-width="5.0" fill="none" stroke-linejoin="round"/>
<polyline points="1262.8,637.7 1263.9,636.0 1264.8,634.7 1265.7,633.2 1266.8,631.7 1267.8,630.3 1268.8,628.9 1269.8,627.4 1270.9,626.0 1272.0,624.6 1273.1,623.2 1274.2,621.8 1275.3,620.4 1276.4,619.1 1277.5,617.7 1278.7,616.4 1279.9,615.1 1281.1,613.7 1282.3,612.4 1283.5,611.1 1284.7,609.9 1285.9,608.6 1287.2,607.4 1288.5,606.1 1289.7,604.9 1291.0,603.7 1292.3,602.5 1293.7,601.3 1295.0,600.1 1296.3,599.0 1297.7,597.9 1299.1,596.7 1300.4,595.6 1301.8,594.5 1303.3,593.5 1304.7,592.4 1306.1,591.4 1307.6,590.4 1309.1,589.5 1310.6,588.6 1312.1,587.7 1313.7,586.8 1315.3,586.0 1316.8,585.1 1318.4,584.3 1320.0,583.6 1321.6,582.8 1323.2,582.1 1324.6,581.4 1326.5,580.7" stroke="#A52A2A" stroke-width="5.0" fill="none" stroke-linejoin="round"/>
<polyline points="1205.8,767.2 1208.8,770.1" stroke="#A52A2A" stroke-width="4" fill="none" stroke-linejoin="round"/>
<polyline points="1208.0,781.2 1211.0,785.7" stroke="#A52A2A" stroke-width="4" fill="none" stroke-linejoin="round"/>
<polygon points="1269.5,748.7 1273.9,747.2 1277.6,749.8 1282.1,747.2 1286.9,748.7 1290.6,755.3 1293.2,818.2 1269.5,818.2" fill="#000" stroke="#000" stroke-width="2" stroke-linejoin="round"/>
<polygon points="1286.1,751.6 1286.5,747.1 1286.7,743.6 1287.1,739.6 1287.4,735.5 1287.8,731.5 1288.2,727.5 1288.6,723.5 1289.0,719.5 1289.4,715.5 1289.9,711.5 1290.4,707.5 1290.9,703.5 1291.4,699.5 1292.0,695.5 1292.6,691.5 1293.2,687.5 1293.9,683.5 1294.6,679.6 1295.4,675.6 1296.2,671.7 1297.0,667.7 1297.9,663.8 1298.7,659.8 1299.7,655.9 1300.6,652.0 1301.7,648.1 1302.8,644.2 1304.0,640.4 1305.3,636.6 1306.7,632.8 1308.2,629.0 1309.8,625.3 1311.6,621.7 1313.5,618.2 1315.7,614.8 1318.1,611.4 1320.8,608.8 1323.3,607.2 1326.5,607.3 1326.5,611.0 1326.5,616.5 1326.5,620.8 1326.5,625.3 1326.5,629.6 1326.5,633.5 1326.4,637.3 1326.1,640.7 1325.0,643.8 1322.8,646.8 1320.1,649.7 1317.4,652.9 1315.1,656.4 1313.3,660.2 1311.8,664.0 1310.6,668.0 1309.5,672.0 1308.5,676.1 1307.5,680.1 1306.5,684.2 1305.6,688.3 1304.7,692.3 1303.8,696.4 1303.0,700.5 1302.2,704.6 1301.4,708.6 1300.7,712.7 1300.0,716.8 1299.4,721.0 1298.7,725.1 1298.1,729.2 1297.6,733.3 1297.0,737.4 1296.5,741.6 1296.0,745.7 1295.6,749.8 1295.1,754.0 1294.7,758.1 1294.3,761.8 1293.9,766.4" fill="#000" stroke="#000" stroke-width="2.5" stroke-linejoin="round"/>
<polygon points="1291.7,818.2 1292.4,792.3 1293.9,773.8 1298.0,759.0 1307.2,755.3 1318.3,759.0 1326.5,766.4 1327.9,796.0 1326.5,818.2" fill="#808000" stroke="#808000" stroke-width="2" stroke-linejoin="round"/>
<polyline points="1292.4,792.3 1294.6,814.3 1296.9,813.8 1299.1,808.3 1301.3,760.2 1303.5,799.4 1305.7,778.6 1308.0,787.6 1310.2,797.1 1312.4,767.8 1314.6,772.2 1316.8,801.3 1319.1,805.9 1321.3,810.8 1323.5,805.4 1325.7,760.2" stroke="#808000" stroke-width="3.2" fill="none" stroke-linejoin="round"/>
<polyline points="1292.4,760.7 1295.0,773.2 1297.6,801.5 1300.2,759.7 1302.8,768.5 1305.4,760.8 1308.0,774.0 1310.5,797.5 1313.1,774.3 1315.7,792.0 1318.3,761.6 1320.9,812.1 1323.5,764.6 1326.1,767.0" stroke="#808000" stroke-width="3.2" fill="none" stroke-linejoin="round"/>
<polyline points="1292.4,768.6 1295.4,785.2 1298.3,781.3 1301.3,811.5 1304.3,766.6 1307.2,776.2 1310.2,772.1 1313.1,799.4 1316.1,769.3 1319.1,808.0 1322.0,759.3 1325.0,790.5" stroke="#808000" stroke-width="3.2" fill="none" stroke-linejoin="round"/>
<polyline points="1292.4,787.5 1294.6,817.9 1296.9,804.7 1299.1,772.8 1301.3,769.3 1303.5,799.1 1305.7,766.4 1308.0,779.5 1310.2,794.3 1312.4,780.7 1314.6,759.1 1316.8,813.3 1319.1,813.3 1321.3,773.9 1323.5,792.4 1325.7,820.3" stroke="#808000" stroke-width="3.2" fill="none" stroke-linejoin="round"/>
<polyline points="1292.4,818.9 1295.0,800.0 1297.6,821.9 1300.2,769.2 1302.8,777.5 1305.4,802.8 1308.0,821.7 1310.5,774.8 1313.1,764.8 1315.7,779.0 1318.3,775.1 1320.9,777.9 1323.5,800.7 1326.1,814.5" stroke="#808000" stroke-width="3.2" fill="none" stroke-linejoin="round"/>
<polyline points="1292.4,812.3 1295.4,791.9 1298.3,772.6 1301.3,767.4 1304.3,780.7 1307.2,763.8 1310.2,799.0 1313.1,782.4 1316.1,790.1 1319.1,777.9 1322.0,780.1 1325.0,763.6" stroke="#808000" stroke-width="3.2" fill="none" stroke-linejoin="round"/>
<polygon points="1292.4,784.9 1293.5,775.1 1294.3,767.2 1295.3,758.4 1296.4,749.6 1297.4,740.7 1298.5,731.9 1299.7,723.0 1301.0,714.2 1302.7,705.5 1305.2,697.2 1308.8,689.3 1313.3,681.7 1317.8,674.1 1321.8,666.1 1325.0,657.9 1327.8,649.4 1330.7,641.0 1333.9,632.6 1337.3,624.5 1341.3,616.5 1345.7,608.8 1350.6,601.5 1356.1,594.5 1362.1,588.0 1368.6,582.0 1375.6,576.5 1383.0,571.6 1390.6,567.1 1398.5,562.9 1406.6,559.2 1414.8,555.9 1423.2,552.9 1431.7,550.2 1440.2,547.8 1448.9,545.6 1457.6,543.7 1466.3,542.1 1474.1,540.7 1483.9,539.2 1483.9,551.7 1474.2,554.1 1466.5,556.2 1457.9,558.6 1449.4,561.2 1440.9,564.1 1432.5,567.1 1424.1,570.3 1415.9,573.8 1407.8,577.6 1400.1,582.0 1392.7,587.0 1385.8,592.5 1379.4,598.7 1373.6,605.5 1368.6,612.8 1364.1,620.6 1360.1,628.5 1356.3,636.6 1352.6,644.8 1349.1,653.0 1345.6,661.2 1342.1,669.5 1338.7,677.8 1335.5,686.1 1332.5,694.5 1330.1,703.1 1328.2,711.7 1326.6,720.4 1325.1,729.2 1323.9,738.1 1322.7,747.0 1321.6,755.9 1320.5,764.9 1319.4,773.8 1318.3,782.7 1317.2,791.6 1316.1,800.5 1315.1,808.4 1313.9,818.2" fill="#808000" stroke="#808000" stroke-width="2.5" stroke-linejoin="round"/>
<polyline points="1322.8,818.2 1323.2,812.0 1323.6,807.0 1324.0,801.4 1324.4,795.8 1324.9,790.2 1325.4,784.6 1325.9,779.0 1326.5,773.4 1327.1,767.9 1327.7,762.3 1328.4,756.7 1329.0,751.1 1329.7,745.5 1330.4,739.9 1331.1,734.3 1332.0,728.8 1333.2,723.4 1334.8,718.0 1336.8,712.8 1339.1,707.7 1341.3,702.5 1343.3,697.3 1345.0,691.9 1346.6,686.5 1348.1,681.1 1349.6,675.7 1351.2,670.3 1353.0,665.0 1354.9,659.7 1357.0,654.5 1359.2,649.3 1361.4,644.1 1363.6,639.0 1366.0,634.0 1369.1,629.5 1372.8,625.5 1377.1,621.8 1381.5,618.2 1385.9,614.8 1390.4,611.3 1394.9,608.0 1399.5,604.7 1404.1,601.6 1408.9,598.6 1413.7,595.8 1418.7,593.1 1423.7,590.6 1428.8,588.2 1433.9,585.9 1439.0,583.6 1444.2,581.3 1449.3,579.0 1454.3,576.5 1459.3,573.9 1464.2,571.2 1469.0,568.4 1473.9,565.6 1478.3,563.2 1483.9,560.4" stroke="#808000" stroke-width="4.8" fill="none" stroke-linejoin="round"/>
<polyline points="1327.2,818.2 1327.6,812.2 1328.0,807.3 1328.4,801.9 1328.8,796.4 1329.3,791.0 1329.8,785.5 1330.3,780.1 1330.8,774.7 1331.4,769.2 1332.0,763.8 1332.6,758.4 1333.2,752.9 1333.9,747.5 1334.6,742.1 1335.3,736.6 1336.0,731.2 1337.0,725.9 1338.3,720.6 1340.0,715.5 1342.0,710.4 1344.2,705.4 1346.3,700.3 1348.3,695.2 1350.1,690.0 1351.8,684.9 1353.5,679.7 1355.3,674.5 1357.2,669.4 1359.3,664.4 1361.6,659.4 1364.0,654.5 1366.4,649.6 1368.9,644.7 1371.3,639.7 1373.8,634.9 1376.7,630.4 1380.2,626.4 1384.1,622.7 1388.3,619.2 1392.5,615.6 1396.7,612.0 1400.8,608.5 1405.1,605.1 1409.5,601.9 1414.1,598.9 1418.8,596.2 1423.6,593.6 1428.5,591.3 1433.5,589.0 1438.6,586.9 1443.6,584.8 1448.7,582.7 1453.8,580.7 1458.8,578.6 1463.8,576.3 1468.7,574.0 1473.7,571.8 1478.2,569.9 1483.9,567.8" stroke="#808000" stroke-width="4.8" fill="none" stroke-linejoin="round"/>
<polyline points="1371.8,599.1 1373.9,597.2 1375.5,595.7 1377.4,594.0 1379.3,592.4 1381.2,590.8 1383.2,589.3 1385.3,587.8 1387.4,586.5 1389.5,585.2 1391.5,584.2 1394.0,583.0" stroke="#fff" stroke-width="1.2" fill="none" stroke-linejoin="round"/>
<polyline points="1346.6,659.3 1347.8,655.6 1348.9,652.7 1350.0,649.5 1351.3,646.2 1352.5,643.0 1353.8,639.8 1355.2,636.6 1356.5,633.4 1357.9,630.3 1359.2,627.5 1360.7,623.9" stroke="#fff" stroke-width="1.0" fill="none" stroke-linejoin="round"/>
</g>
<text transform="translate(1036.5,666) rotate(-90)" font-size="24.2" text-anchor="middle" fill="#262626" stroke="#262626" stroke-width="0.35" font-family='"Liberation Sans", sans-serif'><tspan>I</tspan><tspan dy="11.5" font-size="19.36">DS</tspan><tspan dy="-11.5"> (A.</tspan><tspan dx="1.5" font-size="22.26" font-family='"DejaVu Sans", sans-serif' font-style="italic">μ</tspan><tspan dx="1.2">m</tspan><tspan dy="-12.3" font-size="19.36">-1</tspan><tspan dy="12.3">)</tspan></text>
<text x="1298.7" y="877.5" font-size="24.2" text-anchor="middle" fill="#262626" stroke="#262626" stroke-width="0.35" font-family='"Liberation Sans", sans-serif'><tspan>V</tspan><tspan dy="11.5" font-size="19.36">GS</tspan><tspan dy="-11.5"> (V)</tspan></text>
<text x="1124.8" y="551.2" font-size="26.4" text-anchor="start" fill="#000" stroke="#000" stroke-width="0.35" font-family='"Liberation Serif", serif'><tspan font-size="25.5" font-style="italic">V</tspan><tspan dy="5.3" x="1139" font-size="19.2">DS</tspan><tspan dy="-5.3" x="1163.8" font-family='"Liberation Sans", sans-serif'>=0.1 V</tspan></text>
<text x="1125.2" y="586.7" font-size="26.4" text-anchor="start" fill="#A52A2A" stroke="#A52A2A" stroke-width="0.35" font-family='"Liberation Serif", serif'><tspan font-size="25.5" font-style="italic">V</tspan><tspan dy="5.3" x="1139.4" font-size="19.2">P</tspan><tspan dy="-5.3" x="1156.2" font-family='"Liberation Sans", sans-serif'>=-13 V</tspan></text>
<text x="1125.2" y="622.7" font-size="26.4" text-anchor="start" fill="#808000" stroke="#808000" stroke-width="0.35" font-family='"Liberation Serif", serif'><tspan font-size="25.5" font-style="italic">V</tspan><tspan dy="5.3" x="1139.4" font-size="19.2">E</tspan><tspan dy="-5.3" x="1156.2" font-family='"Liberation Sans", sans-serif'>=13 V</tspan></text>
<rect x="1593.3" y="514.2" width="393.7" height="302.9" fill="none" stroke="#262626" stroke-width="2"/>
<text x="1584.7" y="825" font-size="21.6" text-anchor="end" fill="#262626" stroke="#262626" stroke-width="0.35" font-family='"Liberation Sans", sans-serif'>0</text>
<text x="1584.7" y="724.03" font-size="21.6" text-anchor="end" fill="#262626" stroke="#262626" stroke-width="0.35" font-family='"Liberation Sans", sans-serif'>1</text>
<text x="1584.7" y="623.07" font-size="21.6" text-anchor="end" fill="#262626" stroke="#262626" stroke-width="0.35" font-family='"Liberation Sans", sans-serif'>2</text>
<text x="1584.7" y="522.1" font-size="21.6" text-anchor="end" fill="#262626" stroke="#262626" stroke-width="0.35" font-family='"Liberation Sans", sans-serif'>3</text>
<path d="M1593.3 716.13h12.68M1987 716.13h-12.68M1593.3 615.17h12.68M1987 615.17h-12.68" stroke="#262626" stroke-width="2" fill="none"/>
<text x="1593.3" y="846.5" font-size="21.6" text-anchor="middle" fill="#262626" stroke="#262626" stroke-width="0.35" font-family='"Liberation Sans", sans-serif'>-15</text>
<text x="1658.92" y="846.5" font-size="21.6" text-anchor="middle" fill="#262626" stroke="#262626" stroke-width="0.35" font-family='"Liberation Sans", sans-serif'>-10</text>
<text x="1724.53" y="846.5" font-size="21.6" text-anchor="middle" fill="#262626" stroke="#262626" stroke-width="0.35" font-family='"Liberation Sans", sans-serif'>-5</text>
<text x="1790.15" y="846.5" font-size="21.6" text-anchor="middle" fill="#262626" stroke="#262626" stroke-width="0.35" font-family='"Liberation Sans", sans-serif'>0</text>
<text x="1855.77" y="846.5" font-size="21.6" text-anchor="middle" fill="#262626" stroke="#262626" stroke-width="0.35" font-family='"Liberation Sans", sans-serif'>5</text>
<text x="1921.38" y="846.5" font-size="21.6" text-anchor="middle" fill="#262626" stroke="#262626" stroke-width="0.35" font-family='"Liberation Sans", sans-serif'>10</text>
<text x="1987" y="846.5" font-size="21.6" text-anchor="middle" fill="#262626" stroke="#262626" stroke-width="0.35" font-family='"Liberation Sans", sans-serif'>15</text>
<path d="M1658.92 817.1v-12.68M1658.92 514.2v12.68M1724.53 817.1v-12.68M1724.53 514.2v12.68M1790.15 817.1v-12.68M1790.15 514.2v12.68M1855.77 817.1v-12.68M1855.77 514.2v12.68M1921.38 817.1v-12.68M1921.38 514.2v12.68" stroke="#262626" stroke-width="2" fill="none"/>
<polygon points="1760.5,625.5999999999999 1657.7,625.5999999999999 1657.7,611.5 1615,632.8 1657.7,654.0999999999999 1657.7,640.0 1760.5,640.0" fill="#AFABAB"/>
<polygon points="1812.6,625.5999999999999 1916.0,625.5999999999999 1916.0,611.5 1958.7,632.8 1916.0,654.0999999999999 1916.0,640.0 1812.6,640.0" fill="#AFABAB"/>
<text x="1675.8" y="614.3" font-size="22" text-anchor="start" fill="#A52A2A" stroke="#A52A2A" stroke-width="0.35" font-family='"Liberation Sans", sans-serif'>Program</text>
<text x="1814" y="614.3" font-size="22" text-anchor="start" fill="#808000" stroke="#808000" stroke-width="0.35" font-family='"Liberation Sans", sans-serif'>Erase</text>
<circle cx="1763.9" cy="800.44" r="7.8" fill="#000"/>
<circle cx="1816.4" cy="800.44" r="7.8" fill="#000"/>
<circle cx="1619.55" cy="736.33" r="7.8" fill="#A52A2A"/>
<circle cx="1645.79" cy="680.8" r="7.8" fill="#A52A2A"/>
<circle cx="1672.04" cy="695.94" r="7.8" fill="#A52A2A"/>
<circle cx="1698.29" cy="794.89" r="7.8" fill="#A52A2A"/>
<circle cx="1724.53" cy="801.96" r="7.8" fill="#A52A2A"/>
<circle cx="1750.78" cy="800.44" r="7.8" fill="#A52A2A"/>
<circle cx="1829.52" cy="800.44" r="7.8" fill="#808000"/>
<circle cx="1855.77" cy="799.94" r="7.8" fill="#808000"/>
<circle cx="1882.01" cy="796.91" r="7.8" fill="#808000"/>
<circle cx="1908.26" cy="786.31" r="7.8" fill="#808000"/>
<circle cx="1934.51" cy="760.05" r="7.8" fill="#808000"/>
<circle cx="1960.75" cy="762.07" r="7.8" fill="#808000"/>
<text transform="translate(1554,666) rotate(-90)" font-size="24.2" text-anchor="middle" fill="#262626" stroke="#262626" stroke-width="0.35" font-family='"Liberation Sans", sans-serif'><tspan font-size="22" font-family='"DejaVu Sans", sans-serif' font-style="italic">σ</tspan><tspan dy="11.5" font-size="19.5">VTH</tspan><tspan dy="-11.5"> (V)</tspan></text>
<text x="1790" y="877.5" font-size="24.2" text-anchor="middle" fill="#262626" stroke="#262626" stroke-width="0.35" font-family='"Liberation Sans", sans-serif'><tspan>V</tspan><tspan dy="11.5" font-size="19.5">P</tspan><tspan dy="-11.5"> / V</tspan><tspan dy="11.5" font-size="19.5">E</tspan><tspan dy="-11.5"> (V)</tspan></text>
</svg></body></html>
